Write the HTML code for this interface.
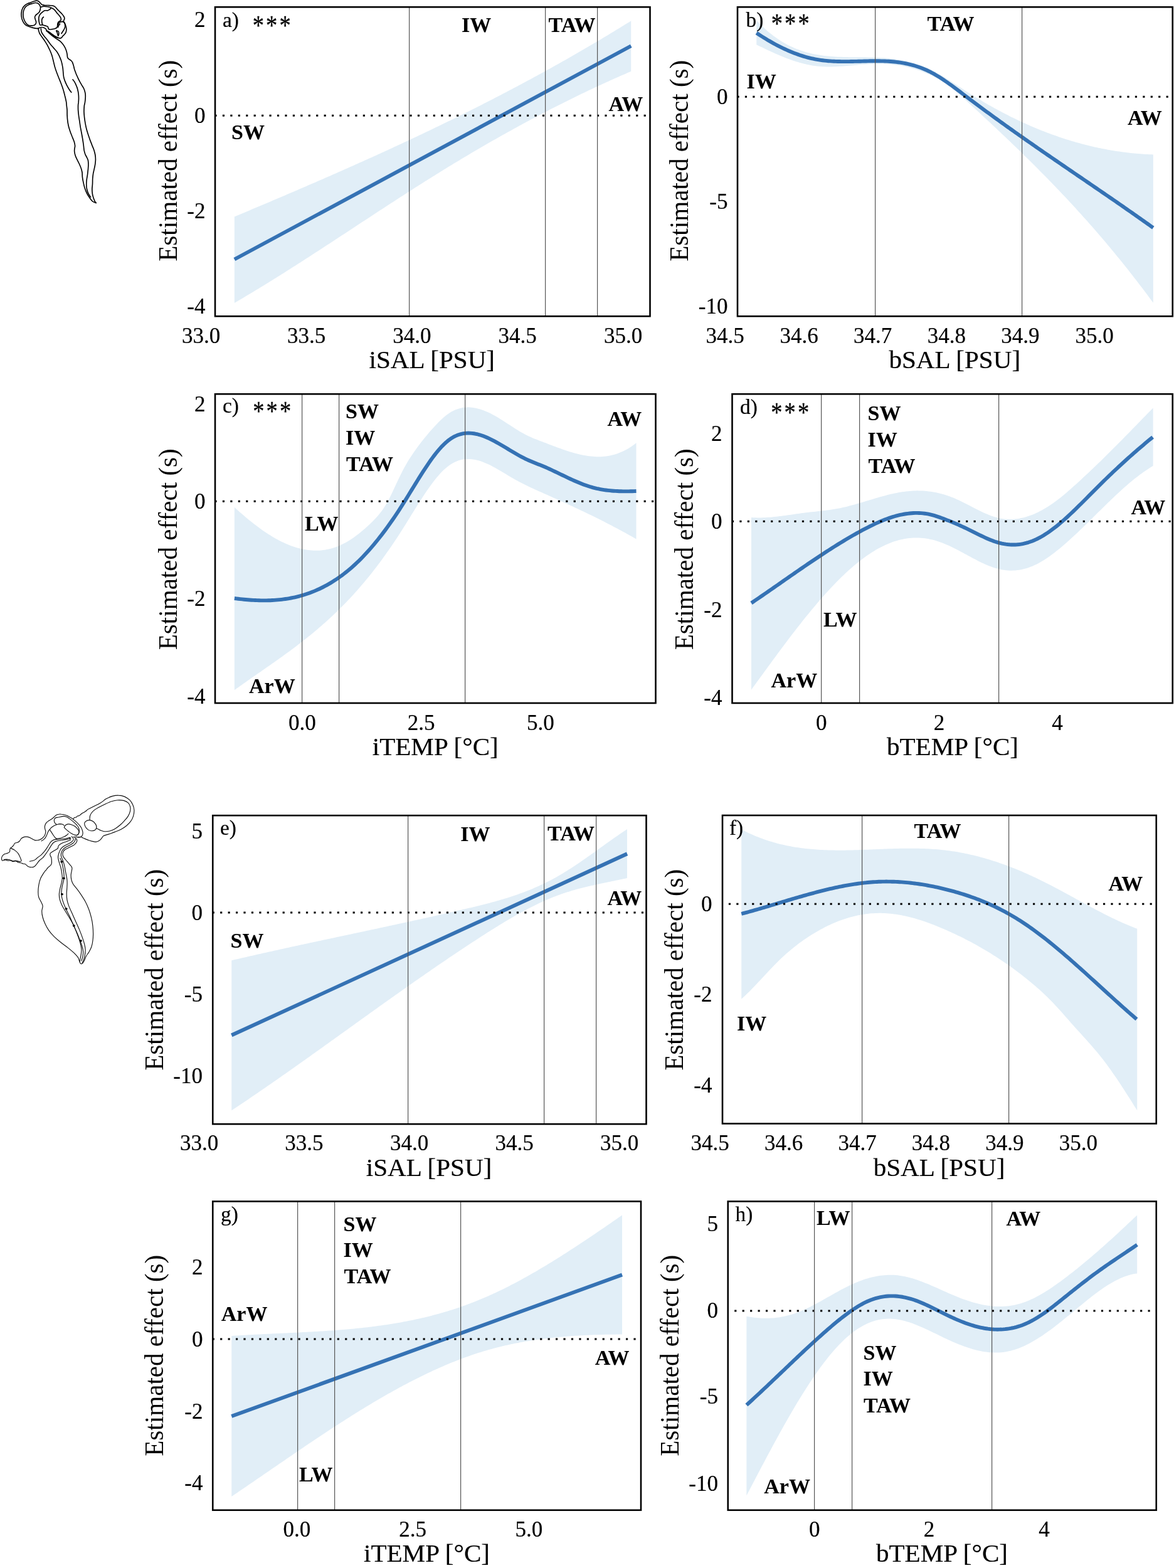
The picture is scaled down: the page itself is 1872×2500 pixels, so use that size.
<!DOCTYPE html>
<html lang="en">
<head>
<meta charset="utf-8">
<title>Estimated effects of salinity and temperature</title>
<style>
html,body{margin:0;padding:0;background:#fff;}
body{width:1872px;height:2500px;overflow:hidden;}
svg{display:block;}
text{font-family:"Liberation Serif","Times New Roman",Times,serif;fill:#000;stroke:#000;stroke-width:.22px;stroke-linejoin:round;}
.tk{font-size:35px;}
.ti{font-size:41.1px;}
.tg{font-size:33.3px;}
.yl{stroke-width:0;}
.bd{font-size:34px;font-weight:bold;stroke-width:.1px;}
.st{font-size:36.5px;letter-spacing:3.15px;}
</style>
</head>
<body>
<svg width="1872" height="2500" viewBox="0 0 1872 2500">
<rect width="1872" height="2500" fill="#fff"/>
<g id="icon1" fill="none" stroke="#000" stroke-width="1.65" stroke-linecap="round" stroke-linejoin="round">
<path d="M60.9 45.3C60.2 45.3 57.9 45.3 56.2 45.1C54.5 44.9 52.6 44.4 50.8 43.9C49.0 43.4 47.1 42.9 45.4 42.1C43.6 41.4 41.7 40.5 40.4 39.4C39.0 38.3 38.1 36.9 37.2 35.3C36.3 33.7 35.5 31.7 34.9 29.9C34.4 28.1 34.1 26.3 34.0 24.5C33.9 22.6 34.0 20.8 34.3 19.0C34.6 17.2 35.1 15.2 35.9 13.6C36.6 11.9 37.7 10.3 39.0 9.1C40.3 7.8 41.9 6.7 43.6 5.9C45.2 5.1 47.2 4.7 49.0 4.1C50.8 3.4 52.8 2.5 54.4 2.0C56.0 1.5 57.3 1.0 58.5 1.1C59.7 1.1 60.7 1.6 61.7 2.3C62.6 2.9 63.6 4.2 64.4 5.0C65.2 5.8 65.6 6.7 66.6 7.2C67.7 7.8 68.8 7.9 70.7 8.2C72.6 8.4 75.7 8.5 78.0 8.6C80.2 8.8 82.7 8.7 84.3 9.1C86.0 9.4 86.8 10.0 87.9 10.9C89.1 11.8 89.9 13.2 91.1 14.5C92.3 15.8 93.9 17.3 95.2 18.6C96.5 19.9 97.7 21.0 98.8 22.2C99.9 23.4 100.8 24.7 101.5 25.8C102.2 26.9 102.8 27.9 102.9 29.0C103.0 30.0 102.3 31.3 102.0 32.2C101.7 33.0 100.9 33.3 101.1 34.0C101.2 34.6 102.3 35.1 102.9 36.2C103.5 37.4 104.2 39.1 104.7 40.8C105.2 42.4 105.8 44.4 105.9 46.2C105.9 48.0 105.7 50.1 105.1 51.6C104.6 53.1 103.3 54.2 102.4 55.3C101.5 56.3 100.5 57.1 99.7 58.0C99.0 58.8 98.7 59.8 97.9 60.2C97.1 60.7 95.9 61.0 94.7 60.9C93.5 60.7 92.1 60.0 90.7 59.3C89.2 58.6 87.6 57.6 86.1 56.6C84.6 55.6 83.0 54.4 81.6 53.4C80.2 52.5 79.0 51.4 78.0 50.7C77.0 50.0 76.1 49.6 75.7 49.4"/>
<path d="M63.0 7.7C62.2 6.6 61.0 5.5 59.9 5.0C58.7 4.5 57.7 4.4 56.2 4.5C54.7 4.7 52.6 5.4 50.8 5.9C49.0 6.4 46.9 6.9 45.4 7.7C43.8 8.5 42.4 9.3 41.3 10.4C40.2 11.5 39.3 12.9 38.6 14.5C37.9 16.1 37.3 18.0 37.0 19.9C36.8 21.9 36.8 24.3 37.0 26.3C37.3 28.2 37.9 30.0 38.6 31.7C39.3 33.4 40.2 35.3 41.3 36.7C42.3 38.0 43.5 39.1 44.9 39.9C46.3 40.6 48.3 40.9 49.9 40.9C51.5 41.0 53.2 40.8 54.4 40.3C55.6 39.8 56.4 38.9 57.0 38.0C57.5 37.1 57.7 36.0 57.6 34.9C57.5 33.7 56.8 32.5 56.4 31.3C56.1 30.0 55.5 28.8 55.5 27.6C55.6 26.5 56.0 25.4 56.7 24.5C57.3 23.6 58.5 22.9 59.4 22.2C60.3 21.4 61.4 20.9 62.1 19.9C62.9 18.9 63.5 17.7 63.9 16.3C64.3 14.9 64.7 13.2 64.6 11.8C64.4 10.3 63.8 8.8 63.0 7.7Z"/>
<path d="M65.3 11.3C66.0 11.1 68.0 10.3 69.8 10.1C71.6 10.0 74.0 10.3 76.2 10.7C78.3 11.1 80.8 11.9 82.5 12.7C84.2 13.5 85.3 14.2 86.6 15.4C87.9 16.6 89.0 18.5 90.2 19.9C91.4 21.4 92.8 22.7 93.8 24.0C94.9 25.3 95.9 26.5 96.5 27.6C97.1 28.8 97.5 29.9 97.4 30.8C97.4 31.7 96.8 32.4 96.1 33.1C95.4 33.7 94.0 34.1 93.4 34.9C92.7 35.6 92.3 36.5 92.0 37.6C91.7 38.6 91.8 40.2 91.6 41.2C91.3 42.3 91.3 43.2 90.7 43.9C90.0 44.7 88.8 45.3 87.5 45.7C86.2 46.2 84.5 46.5 83.0 46.6C81.4 46.8 79.4 47.2 78.4 46.9C77.4 46.6 77.2 45.6 76.9 44.8C76.5 44.1 76.8 43.1 76.3 42.6C75.8 42.0 74.8 41.8 73.9 41.5C73.0 41.2 71.9 40.9 70.7 40.6C69.6 40.3 68.2 39.8 67.1 39.7C66.0 39.6 64.7 40.3 63.9 39.9C63.2 39.4 63.1 38.5 62.8 37.1C62.4 35.8 62.0 33.4 61.8 31.7C61.7 30.0 61.7 28.3 62.1 26.7C62.5 25.1 63.3 23.6 64.4 22.2C65.4 20.8 67.3 19.5 68.5 18.6C69.7 17.7 70.3 17.1 71.6 16.8C72.9 16.5 75.0 17.0 76.2 16.8C77.4 16.5 78.1 15.7 78.9 15.2C79.7 14.7 80.5 13.9 80.9 13.6"/>
<path d="M69.4 27.2C69.1 27.5 68.0 28.1 67.6 29.0C67.1 29.9 66.7 31.2 66.6 32.6C66.6 34.0 66.9 36.0 67.1 37.1C67.3 38.3 67.9 39.0 68.0 39.4"/>
<path d="M92.5 39.9C92.7 39.3 93.2 37.5 93.8 36.7C94.4 35.9 95.2 35.5 96.1 35.1C97.0 34.8 98.4 34.4 99.3 34.4C100.2 34.5 100.8 34.7 101.5 35.3C102.2 35.9 103.0 36.8 103.3 38.0C103.7 39.3 104.0 41.1 103.8 42.6C103.6 44.1 102.7 45.7 102.0 47.1C101.3 48.5 100.4 49.7 99.7 50.7C99.0 51.8 98.2 53.0 97.9 53.4"/>
<path d="M89.7 48.9C89.6 49.3 90.7 50.6 91.1 51.6C91.5 52.7 91.7 54.3 92.0 55.3C92.3 56.2 92.6 57.2 92.9 57.1C93.2 56.9 93.7 55.4 93.8 54.3C93.9 53.3 93.7 51.6 93.4 50.7C93.1 49.9 92.6 49.7 92.0 49.4C91.4 49.1 89.9 48.5 89.7 48.9Z"/>
<path d="M92.5 43.5C92.6 43.0 93.0 41.7 93.6 40.8C94.1 39.9 95.3 38.5 95.6 38.0"/>
<path d="M60.9 45.3C61.4 45.1 62.5 44.5 63.5 44.2C64.5 43.9 65.9 43.4 67.1 43.5C68.3 43.5 69.7 43.9 70.7 44.4C71.8 44.9 72.8 45.8 73.4 46.6C74.0 47.5 74.2 48.9 74.3 49.4"/>
<path d="M75.7 49.4C75.9 49.7 76.4 50.5 77.1 51.2C77.7 51.9 78.7 52.6 79.8 53.4C80.8 54.3 82.0 55.3 83.4 56.2C84.8 57.1 86.4 58.2 87.9 58.9C89.4 59.6 91.7 60.2 92.5 60.5"/>
<path d="M60.9 45.3C61.1 45.9 61.3 47.6 61.7 48.9C62.0 50.2 62.3 51.5 63.0 53.0C63.8 54.5 64.9 56.1 66.2 58.0C67.5 59.9 69.2 62.0 70.7 64.3C72.2 66.6 73.9 69.1 75.3 71.6C76.6 74.0 77.7 76.4 78.9 78.8C80.0 81.2 81.2 83.8 82.0 86.1C82.9 88.3 83.3 90.1 83.9 92.4C84.5 94.7 85.1 97.2 85.7 99.6C86.3 102.1 86.7 104.3 87.5 106.9C88.2 109.5 89.2 112.3 90.2 115.0C91.2 117.8 92.2 120.3 93.4 123.2C94.5 126.1 95.8 129.1 97.0 132.2C98.2 135.4 99.6 138.9 100.6 142.2C101.7 145.5 102.5 148.9 103.3 152.2C104.2 155.5 105.1 159.6 105.6 162.1C106.1 164.6 105.8 165.0 106.1 167.2C106.3 169.5 106.8 172.7 107.0 175.4C107.1 178.1 107.0 180.8 107.1 183.6C107.3 186.3 107.3 188.8 107.7 191.7C108.0 194.6 108.5 197.7 109.2 200.8C109.9 203.8 111.0 207.0 111.9 209.8C112.9 212.7 114.1 215.3 115.1 218.0C116.2 220.7 117.5 223.7 118.3 226.1C119.0 228.5 119.5 230.7 119.6 232.5C119.7 234.3 119.1 235.5 118.9 237.0C118.8 238.5 118.5 239.7 118.7 241.5C118.9 243.3 119.4 245.7 120.1 247.9C120.8 250.0 121.8 252.1 122.8 254.2C123.8 256.3 124.9 258.3 126.0 260.5C127.0 262.8 128.3 265.4 129.1 267.8C130.0 270.2 130.6 272.6 131.0 275.0C131.3 277.5 131.1 279.7 131.4 282.3C131.7 284.8 132.2 287.6 132.8 290.4C133.4 293.3 134.1 296.5 135.0 299.5C136.0 302.5 137.3 305.8 138.7 308.6C140.0 311.3 141.7 313.7 143.2 315.8C144.7 317.9 146.1 319.9 147.7 321.2C149.4 322.5 152.2 323.1 153.2 323.5"/>
<path d="M65.3 45.7C65.4 46.3 65.4 48.2 65.7 49.4C66.0 50.6 66.3 51.6 67.1 53.0C67.9 54.4 69.4 56.2 70.7 58.0C72.1 59.7 73.7 61.4 75.3 63.4C76.8 65.4 78.1 67.6 79.8 69.7C81.4 71.9 83.4 74.0 85.2 76.1C87.0 78.2 89.1 80.3 90.7 82.4C92.2 84.5 93.2 86.7 94.3 88.8C95.3 90.9 96.2 93.0 97.0 95.1C97.7 97.2 98.3 99.2 98.8 101.4C99.3 103.7 99.8 106.3 100.2 108.7C100.5 111.1 100.6 113.7 100.8 115.9C101.0 118.2 101.1 120.2 101.5 122.3C101.9 124.4 102.5 126.4 103.3 128.6C104.2 130.9 105.4 133.6 106.5 135.9C107.6 138.1 108.9 140.3 110.1 142.2C111.3 144.1 113.1 146.4 113.8 147.2"/>
<path d="M74.3 49.4C75.0 49.9 76.5 51.3 78.0 52.5C79.5 53.8 81.4 55.6 83.4 57.1C85.4 58.6 87.8 60.2 89.7 61.6C91.7 63.0 93.5 63.9 95.2 65.2C96.8 66.6 98.4 68.1 99.7 69.7C101.1 71.4 102.4 73.4 103.3 75.2C104.3 77.0 105.0 78.8 105.6 80.6C106.2 82.4 106.6 84.2 107.0 86.1C107.3 87.9 107.2 90.1 107.7 91.5C108.1 92.8 108.7 93.4 109.7 94.2C110.6 95.0 112.3 95.6 113.3 96.5C114.3 97.4 114.9 98.2 115.6 99.6C116.2 101.1 116.8 103.3 117.4 105.1C117.9 106.9 118.1 108.4 118.7 110.5C119.4 112.6 120.5 115.5 121.4 117.8C122.4 120.0 123.2 122.0 124.2 124.1C125.1 126.2 126.3 128.5 127.3 130.4C128.4 132.4 129.5 134.1 130.5 135.9C131.6 137.7 132.8 139.2 133.7 141.3C134.6 143.4 135.5 146.1 135.9 148.6C136.4 151.0 136.3 153.4 136.2 155.8C136.1 158.2 135.8 160.8 135.5 163.0C135.2 165.3 134.6 166.5 134.3 169.1C134.1 171.6 133.9 175.1 133.9 178.1C134.0 181.1 134.3 184.2 134.6 187.2C134.9 190.2 135.4 193.2 135.9 196.2C136.5 199.3 137.0 202.3 137.8 205.3C138.5 208.3 139.5 211.3 140.5 214.3C141.5 217.4 142.6 220.5 143.6 223.4C144.7 226.3 145.8 228.8 146.8 231.6C147.9 234.3 149.2 237.1 150.0 239.7C150.8 242.3 151.4 244.5 151.8 247.0C152.2 249.4 152.4 251.8 152.4 254.2C152.4 256.6 152.1 259.0 151.8 261.4C151.5 263.9 151.0 266.1 150.4 268.7C149.9 271.3 149.1 274.1 148.6 276.8C148.2 279.6 147.9 282.3 147.7 285.0C147.5 287.7 147.7 290.4 147.5 293.2C147.4 295.9 146.9 298.7 146.8 301.3C146.8 303.9 146.9 306.1 147.3 308.6C147.6 311.0 148.4 313.7 149.1 315.8C149.8 317.9 150.7 319.9 151.3 321.2C152.0 322.5 152.9 323.1 153.2 323.5"/>
<path d="M116.0 126.8C116.5 127.4 117.8 128.9 118.7 130.4C119.6 131.9 120.6 133.9 121.4 135.9C122.3 137.8 123.1 139.9 123.7 142.2C124.3 144.5 124.8 147.0 125.1 149.5C125.4 151.9 125.5 154.3 125.5 156.7C125.5 159.1 125.2 162.2 125.1 163.9C124.9 165.7 124.7 165.3 124.6 167.2C124.5 169.2 124.5 172.5 124.6 175.4C124.8 178.3 125.1 181.4 125.5 184.5C125.9 187.5 126.4 190.5 126.9 193.5C127.3 196.5 127.7 199.4 128.2 202.6C128.8 205.7 129.5 209.2 130.1 212.5C130.7 215.9 131.3 219.3 131.9 222.5C132.4 225.7 132.8 228.7 133.2 231.6C133.6 234.4 133.7 237.3 134.1 239.7C134.6 242.1 135.2 244.1 135.9 246.1C136.7 248.0 137.9 249.8 138.7 251.5C139.4 253.1 140.1 254.2 140.5 256.0C140.8 257.8 140.9 260.1 140.9 262.4C140.9 264.6 140.7 267.0 140.5 269.6C140.2 272.2 139.9 274.9 139.6 277.8C139.2 280.6 138.5 283.9 138.2 286.8C137.9 289.7 137.7 292.4 137.8 295.0C137.8 297.5 138.1 299.9 138.7 302.2C139.2 304.5 139.9 306.5 140.9 308.6C141.9 310.6 143.9 313.5 144.5 314.4"/>
</g>
<g id="icon2" fill="none" stroke="#111" stroke-width="1.15" stroke-linecap="round" stroke-linejoin="round">
<path d="M112.7 1338.9C112.1 1339.2 110.3 1340.0 108.9 1340.5C107.6 1341.1 106.0 1341.6 104.6 1342.2C103.1 1342.7 101.7 1343.2 100.2 1343.8C98.8 1344.4 97.0 1345.2 95.9 1346.0C94.7 1346.8 93.7 1347.8 93.2 1348.7C92.6 1349.6 92.8 1350.7 92.6 1351.4C92.4 1352.1 92.7 1352.3 91.8 1353.0C90.9 1353.8 88.7 1354.9 87.2 1355.8C85.7 1356.7 84.0 1357.7 82.8 1358.5C81.6 1359.3 80.6 1359.7 80.1 1360.7C79.7 1361.6 79.8 1362.8 80.1 1363.9C80.4 1365.0 81.4 1365.9 81.7 1367.2C82.1 1368.4 82.2 1370.0 82.3 1371.5C82.4 1373.1 82.6 1375.1 82.3 1376.4C82.0 1377.8 81.6 1378.5 80.7 1379.7C79.7 1380.9 77.6 1382.1 76.3 1383.5C75.0 1384.8 74.0 1386.7 73.0 1387.8C72.1 1389.0 72.2 1388.1 70.8 1390.3C69.4 1392.4 66.1 1397.2 64.6 1400.7C63.1 1404.2 62.4 1407.5 61.8 1411.1C61.2 1414.7 60.8 1419.0 60.8 1422.2C60.8 1425.5 61.1 1428.0 61.8 1430.6C62.5 1433.1 64.2 1435.2 65.3 1437.5C66.3 1439.8 67.8 1441.9 68.1 1444.4C68.3 1447.0 66.7 1449.8 66.7 1452.8C66.7 1455.8 67.1 1459.0 68.1 1462.5C69.0 1466.0 70.6 1470.1 72.2 1473.6C73.8 1477.1 75.5 1480.1 77.8 1483.3C80.1 1486.6 82.9 1489.8 86.1 1493.1C89.4 1496.3 93.5 1499.8 97.2 1502.8C100.9 1505.8 104.9 1508.3 108.3 1511.1C111.8 1513.9 115.4 1516.9 118.1 1519.4C120.7 1522.0 122.9 1524.3 124.3 1526.4C125.7 1528.5 125.8 1530.4 126.4 1531.9C127.0 1533.4 127.2 1534.6 127.8 1535.4C128.4 1536.2 129.1 1536.9 129.9 1536.8C130.7 1536.7 131.7 1536.0 132.6 1534.7C133.6 1533.4 134.6 1530.9 135.4 1529.2C136.2 1527.4 136.5 1526.2 137.5 1524.3C138.5 1522.5 140.3 1520.5 141.7 1518.1C143.1 1515.6 144.8 1512.7 145.8 1509.7C146.9 1506.7 147.5 1503.5 147.9 1500.0C148.4 1496.5 148.6 1492.8 148.6 1488.9C148.6 1485.0 148.4 1480.6 147.9 1476.4C147.5 1472.2 146.9 1468.3 145.8 1463.9C144.8 1459.5 143.3 1454.4 141.7 1450.0C140.0 1445.6 138.2 1441.4 136.1 1437.5C134.0 1433.6 131.5 1429.9 129.2 1426.4C126.9 1422.9 124.3 1419.4 122.2 1416.7C120.1 1413.9 118.1 1412.0 116.7 1409.7C115.3 1407.4 114.5 1405.3 113.9 1402.8C113.3 1400.2 113.0 1397.5 113.2 1394.4C113.4 1391.4 114.9 1386.8 114.9 1384.6C114.9 1382.3 114.1 1382.0 113.3 1380.8C112.4 1379.5 111.1 1378.2 110.0 1377.0C108.9 1375.7 107.8 1374.4 106.7 1373.2C105.7 1371.9 104.5 1370.6 103.5 1369.3C102.5 1368.1 101.3 1366.8 100.8 1365.5C100.2 1364.3 99.9 1363.0 99.9 1361.7C99.9 1360.5 100.2 1359.1 100.8 1357.9C101.3 1356.8 102.3 1355.6 103.5 1354.7C104.7 1353.8 106.2 1353.3 107.8 1352.5C109.5 1351.7 111.5 1350.7 113.3 1349.8C115.0 1348.9 116.8 1348.1 118.2 1347.1C119.5 1346.1 120.6 1345.0 121.4 1343.8C122.2 1342.6 122.8 1341.2 122.8 1340.0C122.8 1338.8 121.6 1337.3 121.4 1336.7"/>
<path d="M116.5 1336.2C116.6 1336.6 117.4 1337.9 117.1 1338.9C116.7 1339.9 115.5 1341.2 114.3 1342.2C113.2 1343.2 111.6 1344.0 110.0 1344.9C108.4 1345.8 106.2 1346.7 104.6 1347.6C102.9 1348.5 101.5 1349.3 100.2 1350.3C98.9 1351.3 97.9 1352.3 97.0 1353.6C96.1 1354.9 95.4 1356.4 94.8 1357.9C94.1 1359.5 93.5 1361.3 93.2 1362.8C92.8 1364.4 92.5 1365.5 92.6 1367.2C92.7 1368.8 93.2 1370.8 93.7 1372.6C94.1 1374.4 94.8 1376.2 95.3 1378.0C95.9 1379.9 96.5 1381.5 97.0 1383.5C97.5 1385.5 97.9 1387.2 98.3 1390.0C98.7 1392.8 99.4 1396.9 99.3 1400.0C99.2 1403.1 98.5 1405.6 97.9 1408.3C97.3 1411.1 96.4 1413.9 95.8 1416.7C95.3 1419.4 94.6 1422.2 94.4 1425.0C94.3 1427.8 94.4 1430.3 95.1 1433.3C95.8 1436.3 97.1 1439.8 98.6 1443.1C100.1 1446.3 102.1 1449.3 104.2 1452.8C106.2 1456.2 109.0 1460.4 111.1 1463.9C113.2 1467.4 115.0 1470.4 116.7 1473.6C118.3 1476.9 119.4 1479.9 120.8 1483.3C122.2 1486.8 123.7 1490.7 125.0 1494.4C126.3 1498.1 127.7 1502.3 128.5 1505.6C129.3 1508.8 129.7 1511.1 129.9 1513.9C130.0 1516.7 129.5 1519.7 129.2 1522.2C128.8 1524.8 128.1 1527.3 127.8 1529.2C127.4 1531.0 127.2 1532.6 127.1 1533.3"/>
<path d="M95.9 1368.3C96.3 1369.2 97.6 1371.6 98.3 1374.0C99.0 1376.3 99.7 1379.7 100.2 1382.4C100.8 1385.1 101.3 1387.1 101.6 1390.0C101.9 1392.9 102.3 1396.9 102.1 1400.0C101.9 1403.1 100.9 1405.6 100.3 1408.3C99.7 1411.1 99.0 1413.8 98.6 1416.7C98.2 1419.6 97.7 1422.5 97.9 1425.7C98.1 1428.9 98.8 1432.3 100.0 1436.1C101.2 1439.9 103.0 1444.4 104.9 1448.6C106.7 1452.8 109.0 1456.6 111.1 1461.1C113.2 1465.6 115.4 1471.3 117.4 1475.7C119.3 1480.1 121.2 1483.4 122.9 1487.5C124.7 1491.6 126.4 1496.3 127.8 1500.0C129.2 1503.7 130.4 1506.9 131.2 1509.7C132.1 1512.5 132.5 1514.1 132.6 1516.7C132.8 1519.2 132.4 1522.5 131.9 1525.0C131.5 1527.5 130.2 1530.8 129.9 1531.9"/>
<path d="M119.2 1335.1C119.4 1335.5 120.3 1336.3 120.3 1337.3C120.3 1338.3 119.9 1339.9 119.2 1341.1C118.6 1342.3 117.7 1343.4 116.5 1344.3C115.3 1345.3 113.8 1346.2 112.2 1347.1C110.5 1348.0 108.4 1348.9 106.7 1349.8C105.1 1350.7 103.7 1351.4 102.4 1352.5C101.1 1353.6 99.9 1354.9 99.1 1356.3C98.3 1357.7 97.8 1359.2 97.5 1360.7C97.2 1362.1 97.2 1363.6 97.5 1365.0C97.8 1366.4 98.5 1367.7 99.1 1369.3C99.8 1371.0 100.6 1372.6 101.3 1374.8C102.0 1377.0 102.7 1379.9 103.2 1382.4C103.8 1384.9 103.9 1386.6 104.6 1390.0C105.2 1393.4 106.5 1398.8 106.9 1402.8C107.3 1406.8 107.1 1410.2 106.9 1413.9C106.8 1417.6 106.2 1421.5 106.2 1425.0C106.2 1428.5 106.4 1431.5 106.9 1434.7C107.5 1438.0 108.3 1440.7 109.7 1444.4C111.1 1448.1 113.4 1452.8 115.3 1456.9C117.1 1461.1 119.0 1465.3 120.8 1469.4C122.7 1473.6 124.7 1477.8 126.4 1481.9C128.1 1486.1 129.9 1490.5 131.2 1494.4C132.6 1498.4 133.9 1502.3 134.7 1505.6C135.5 1508.8 136.0 1511.1 136.1 1513.9C136.2 1516.7 135.9 1519.4 135.4 1522.2C135.0 1525.0 134.0 1528.5 133.3 1530.6C132.6 1532.6 131.6 1534.0 131.2 1534.7"/>
<path d="M112.2 1336.2C111.6 1336.4 110.2 1337.1 108.9 1337.6C107.6 1338.0 106.2 1338.3 104.6 1338.6C102.9 1339.0 100.9 1339.2 99.1 1339.5C97.3 1339.7 95.5 1339.9 93.7 1340.3C91.9 1340.6 89.7 1341.0 88.3 1341.6C86.8 1342.2 86.0 1342.9 85.0 1343.8C84.0 1344.7 83.2 1345.8 82.3 1347.1C81.4 1348.3 80.6 1349.8 79.6 1351.4C78.6 1353.0 77.6 1354.9 76.3 1356.8C75.0 1358.8 73.3 1361.0 72.0 1362.8C70.6 1364.6 69.6 1366.3 68.2 1367.7C66.7 1369.2 64.9 1369.8 63.3 1371.5C61.6 1373.2 59.8 1376.0 58.3 1377.8C56.8 1379.5 55.8 1381.1 54.2 1381.9C52.5 1382.8 50.2 1382.8 48.6 1382.6C47.0 1382.5 45.8 1382.1 44.4 1381.2C43.1 1380.4 41.6 1378.5 40.3 1377.8C39.0 1377.1 38.0 1377.4 36.8 1377.1C35.6 1376.7 34.6 1376.0 33.3 1375.7C32.1 1375.3 30.6 1375.5 29.2 1375.0C27.8 1374.5 26.4 1373.1 25.0 1372.9C23.6 1372.7 22.2 1373.8 20.8 1373.6C19.4 1373.4 18.1 1372.2 16.7 1371.9C15.3 1371.7 13.9 1372.4 12.5 1372.2C11.1 1372.0 9.7 1370.8 8.3 1370.8C6.9 1370.8 5.1 1372.5 4.2 1372.2C3.2 1372.0 2.6 1370.6 2.5 1369.4C2.4 1368.3 2.7 1366.6 3.5 1365.3C4.2 1364.0 5.6 1362.6 6.9 1361.8C8.3 1361.0 10.4 1361.0 11.8 1360.4C13.2 1359.8 14.6 1359.5 15.3 1358.3C16.0 1357.2 15.5 1354.6 16.0 1353.5C16.4 1352.3 17.1 1352.3 18.1 1351.4C19.0 1350.5 20.6 1349.1 21.5 1347.9C22.5 1346.8 22.6 1345.2 23.6 1344.4C24.7 1343.7 26.5 1343.9 27.8 1343.3C29.1 1342.8 30.2 1342.1 31.2 1341.0C32.3 1339.9 32.8 1337.9 34.0 1336.8C35.3 1335.7 37.2 1334.8 38.9 1334.4C40.6 1334.1 42.6 1334.1 44.4 1334.4C46.3 1334.8 48.1 1335.9 50.0 1336.8C51.9 1337.7 53.9 1339.1 55.6 1339.6C57.2 1340.1 58.7 1339.8 60.0 1339.7C61.3 1339.6 62.1 1339.4 63.3 1338.9C64.4 1338.4 65.9 1337.6 67.1 1336.7C68.2 1335.8 69.5 1334.7 70.3 1333.5C71.2 1332.3 71.8 1331.0 72.2 1329.7C72.6 1328.3 72.9 1326.7 72.8 1325.3C72.7 1324.0 71.9 1322.8 71.7 1321.5C71.5 1320.3 71.2 1319.1 71.4 1317.7C71.6 1316.4 72.0 1314.7 72.8 1313.4C73.6 1312.0 74.8 1310.7 76.3 1309.6C77.8 1308.4 80.1 1307.4 81.7 1306.3C83.4 1305.2 84.8 1303.9 86.1 1302.8C87.4 1301.7 88.1 1300.6 89.3 1299.8C90.6 1299.0 92.2 1298.4 93.7 1298.2C95.1 1297.9 96.4 1298.0 98.0 1298.2C99.7 1298.3 101.7 1298.7 103.5 1299.2C105.3 1299.8 107.1 1300.6 108.9 1301.4C110.7 1302.3 112.5 1303.2 114.3 1304.4C116.2 1305.6 118.2 1307.3 119.8 1308.8C121.4 1310.2 122.8 1311.4 124.1 1312.8C125.5 1314.2 126.8 1315.6 127.9 1317.2C129.0 1318.7 130.0 1320.4 130.7 1322.1C131.3 1323.7 131.8 1325.5 132.0 1327.0C132.2 1328.4 132.1 1329.7 131.7 1330.8C131.4 1331.8 130.8 1332.8 130.1 1333.5C129.4 1334.1 128.4 1334.3 127.4 1334.6C126.4 1334.8 125.1 1334.9 124.1 1334.8C123.1 1334.8 122.3 1334.4 121.4 1334.3C120.5 1334.2 119.7 1334.2 118.7 1334.3C117.7 1334.4 116.2 1335.2 115.4 1335.1C114.7 1335.0 114.5 1333.8 114.3 1333.5"/>
<path d="M66.0 1340.8C66.5 1340.5 68.2 1339.7 69.2 1338.9C70.3 1338.1 71.4 1337.1 72.2 1335.9C73.1 1334.7 73.7 1333.3 74.4 1331.8C75.1 1330.4 75.6 1328.4 76.3 1327.0C77.0 1325.5 77.9 1323.9 78.5 1323.2C79.0 1322.4 79.4 1322.5 79.6 1322.3"/>
<path d="M16.7 1352.1C17.8 1352.7 21.5 1354.1 23.6 1355.6C25.7 1357.1 27.7 1359.0 29.2 1361.1C30.7 1363.2 31.8 1366.1 32.6 1368.1C33.4 1370.0 34.4 1372.0 34.0 1372.9C33.7 1373.8 32.1 1373.7 30.6 1373.6C29.1 1373.5 26.6 1372.3 25.0 1372.2C23.4 1372.1 22.5 1373.1 20.8 1372.9C19.2 1372.7 17.1 1371.3 15.3 1370.8C13.4 1370.4 11.2 1370.1 9.7 1370.1C8.2 1370.1 6.8 1370.7 6.2 1370.8"/>
<path d="M47.2 1373.2C48.1 1373.0 51.2 1372.7 52.8 1372.2C54.4 1371.7 55.7 1371.0 56.9 1370.1C58.1 1369.3 58.6 1368.3 60.0 1367.2C61.4 1366.0 63.6 1365.0 65.4 1363.4C67.2 1361.7 69.2 1359.4 70.9 1357.4C72.5 1355.4 73.9 1353.3 75.2 1351.4C76.5 1349.5 77.5 1347.5 78.5 1346.0C79.5 1344.4 80.3 1343.2 81.2 1342.2C82.1 1341.2 82.9 1340.6 83.9 1340.0C84.9 1339.4 85.7 1339.0 87.2 1338.6C88.6 1338.3 90.8 1338.2 92.6 1338.1C94.4 1338.0 96.2 1338.0 98.0 1337.8C99.9 1337.7 101.8 1337.6 103.5 1337.3C105.1 1337.0 106.6 1336.5 107.8 1336.2C109.1 1335.9 110.3 1335.3 111.1 1335.4C111.9 1335.5 112.4 1336.3 112.4 1336.7C112.4 1337.1 111.3 1337.6 111.1 1337.8"/>
<path d="M90.4 1314.5C90.0 1314.1 88.4 1313.2 87.7 1312.3C87.0 1311.4 86.5 1310.1 86.4 1309.0C86.2 1307.9 86.4 1306.7 86.9 1305.8C87.4 1304.9 88.4 1304.0 89.3 1303.6C90.3 1303.2 91.3 1303.5 92.6 1303.3C93.9 1303.1 95.5 1302.5 97.0 1302.2C98.4 1301.9 99.9 1301.4 101.3 1301.4C102.8 1301.4 104.2 1301.7 105.7 1302.2C107.1 1302.8 108.6 1303.7 110.0 1304.7C111.4 1305.6 112.9 1306.8 114.3 1307.9C115.8 1309.1 117.3 1310.5 118.7 1311.7C120.1 1313.0 121.4 1314.3 122.5 1315.5C123.6 1316.8 124.6 1318.0 125.2 1319.3C125.9 1320.7 126.2 1322.2 126.3 1323.7C126.4 1325.1 126.1 1326.9 125.8 1328.0C125.4 1329.2 124.8 1330.1 124.1 1330.8C123.5 1331.4 122.3 1331.7 122.0 1331.8"/>
<path d="M89.9 1337.3C89.4 1336.8 88.1 1335.7 87.2 1334.6C86.3 1333.5 85.4 1332.1 84.5 1330.8C83.6 1329.4 82.6 1327.8 81.7 1326.4C80.9 1325.0 79.4 1323.6 79.6 1322.3C79.7 1321.1 81.6 1319.8 82.8 1318.8C84.1 1317.8 85.7 1316.8 87.2 1316.1C88.6 1315.4 90.1 1314.9 91.5 1314.5C93.0 1314.0 94.5 1313.7 95.9 1313.6C97.2 1313.6 98.6 1313.8 99.7 1314.2C100.7 1314.6 101.7 1315.8 102.1 1316.1"/>
<path d="M89.9 1337.3C90.5 1337.2 92.3 1337.0 93.7 1336.7C95.1 1336.5 96.6 1336.1 98.0 1335.7C99.5 1335.2 101.0 1334.7 102.4 1334.0C103.8 1333.4 105.1 1332.7 106.2 1331.8C107.3 1331.0 108.5 1329.6 108.9 1329.1"/>
<path d="M102.4 1318.8C102.7 1318.1 103.5 1316.4 104.6 1315.5C105.7 1314.7 107.3 1314.0 108.9 1313.9C110.5 1313.8 112.5 1314.4 114.3 1315.0C116.2 1315.6 118.2 1316.5 119.8 1317.7C121.4 1318.9 123.1 1320.6 124.1 1322.1C125.2 1323.5 125.9 1325.1 126.0 1326.4C126.1 1327.8 125.4 1329.4 124.7 1330.2C124.0 1331.1 123.1 1331.5 122.0 1331.6C120.8 1331.7 119.1 1331.3 117.6 1330.8C116.2 1330.3 114.7 1329.5 113.3 1328.6C111.8 1327.7 110.3 1326.4 108.9 1325.3C107.6 1324.2 106.1 1323.0 105.1 1322.1C104.1 1321.2 103.4 1320.4 102.9 1319.9C102.5 1319.3 102.1 1319.5 102.4 1318.8Z"/>
<path d="M116.5 1306.0C116.9 1305.6 117.9 1304.1 118.7 1303.6C119.5 1303.1 120.6 1303.5 121.4 1303.0C122.2 1302.6 122.8 1301.5 123.6 1301.1C124.4 1300.7 125.5 1301.0 126.3 1300.6C127.1 1300.2 127.7 1299.4 128.5 1298.7C129.3 1298.0 130.4 1297.1 131.2 1296.5C132.0 1296.0 132.6 1295.9 133.4 1295.4C134.2 1295.0 135.2 1294.4 136.1 1293.8C137.0 1293.2 138.1 1292.2 138.8 1291.6C139.5 1291.0 138.4 1291.3 140.3 1290.3C142.1 1289.2 146.8 1287.0 150.0 1285.4C153.2 1283.8 156.5 1282.5 159.7 1280.6C163.0 1278.6 166.2 1275.5 169.4 1273.6C172.7 1271.8 175.9 1270.4 179.2 1269.4C182.4 1268.5 185.6 1267.9 188.9 1268.1C192.1 1268.2 195.6 1268.9 198.6 1270.1C201.6 1271.4 204.7 1273.5 206.9 1275.7C209.1 1277.9 210.6 1280.7 211.8 1283.3C213.0 1286.0 213.8 1288.7 213.9 1291.7C214.0 1294.7 213.4 1298.4 212.5 1301.4C211.6 1304.4 210.2 1307.2 208.3 1309.7C206.5 1312.3 203.9 1314.6 201.4 1316.7C198.8 1318.8 196.1 1320.6 193.1 1322.2C190.0 1323.8 186.6 1325.1 183.3 1326.4C180.1 1327.7 176.6 1328.8 173.6 1329.9C170.6 1330.9 167.2 1331.5 165.3 1332.6C163.3 1333.8 163.0 1335.5 161.8 1336.8C160.6 1338.1 159.8 1339.4 158.3 1340.3C156.8 1341.2 154.9 1342.2 152.8 1342.4C150.7 1342.5 147.0 1341.2 145.8 1341.0C144.7 1340.8 146.6 1341.3 145.9 1341.1C145.2 1340.9 143.0 1340.2 141.5 1339.7C140.1 1339.2 138.6 1338.7 137.2 1338.1C135.7 1337.5 134.1 1336.7 132.8 1336.2C131.6 1335.7 130.8 1335.1 129.6 1334.8C128.3 1334.6 126.6 1334.7 125.2 1334.6C123.9 1334.5 122.0 1334.3 121.4 1334.3"/>
<path d="M143.1 1306.9C143.2 1305.8 142.8 1302.3 143.8 1300.0C144.7 1297.7 146.4 1295.1 148.6 1293.1C150.8 1291.0 153.9 1289.2 156.9 1287.5C160.0 1285.8 163.2 1284.3 166.7 1282.6C170.1 1281.0 174.3 1278.9 177.8 1277.8C181.2 1276.6 184.3 1275.9 187.5 1275.7C190.7 1275.5 194.4 1275.7 197.2 1276.4C200.0 1277.1 202.4 1278.2 204.2 1279.9C205.9 1281.5 207.1 1283.9 207.6 1286.1C208.2 1288.3 208.2 1290.5 207.6 1293.1C207.1 1295.6 205.7 1298.8 204.2 1301.4C202.7 1303.9 200.7 1306.0 198.6 1308.3C196.5 1310.6 194.2 1313.1 191.7 1315.3C189.1 1317.5 186.1 1319.9 183.3 1321.5C180.6 1323.1 177.8 1324.3 175.0 1325.0C172.2 1325.7 169.2 1325.9 166.7 1325.7C164.1 1325.5 161.8 1324.4 159.7 1323.6C157.6 1322.8 155.1 1321.3 154.2 1320.8"/>
<path d="M134.7 1312.5C135.0 1311.0 136.1 1309.8 137.5 1309.0C138.9 1308.2 141.2 1307.5 143.1 1307.6C144.9 1307.8 147.0 1308.6 148.6 1309.7C150.2 1310.9 151.9 1313.0 152.8 1314.6C153.7 1316.2 154.1 1317.9 153.9 1319.4C153.7 1320.9 152.7 1322.7 151.4 1323.6C150.0 1324.5 147.7 1324.8 145.8 1324.7C144.0 1324.6 141.9 1324.0 140.3 1322.9C138.7 1321.8 137.0 1319.8 136.1 1318.1C135.2 1316.3 134.5 1314.0 134.7 1312.5Z"/>
<ellipse cx="98.3" cy="1374.0" rx="2" ry="1.7" fill="#000" stroke="none"/>
<ellipse cx="101.7" cy="1400.3" rx="2" ry="1.7" fill="#000" stroke="none"/>
<ellipse cx="98.9" cy="1425.7" rx="2" ry="1.7" fill="#000" stroke="none"/>
<ellipse cx="105.6" cy="1449.0" rx="2" ry="1.7" fill="#000" stroke="none"/>
<ellipse cx="117.8" cy="1476.0" rx="2" ry="1.7" fill="#000" stroke="none"/>
<ellipse cx="128.9" cy="1500.0" rx="2" ry="1.7" fill="#000" stroke="none"/>
</g>
<g id="panel-a">
<path d="M373.85 345.51 L376.86 344.25 L379.87 342.98 L382.88 341.72 L385.9 340.45 L388.91 339.18 L391.92 337.92 L394.93 336.65 L397.94 335.38 L400.95 334.11 L403.96 332.84 L406.98 331.57 L409.99 330.3 L413 329.03 L416.01 327.76 L419.02 326.49 L422.03 325.21 L425.04 323.94 L428.06 322.66 L431.07 321.38 L434.08 320.1 L437.09 318.83 L440.1 317.55 L443.11 316.26 L446.12 314.98 L449.14 313.7 L452.15 312.41 L455.16 311.13 L458.17 309.84 L461.18 308.55 L464.19 307.27 L467.2 305.97 L470.22 304.68 L473.23 303.39 L476.24 302.1 L479.25 300.8 L482.26 299.5 L485.27 298.21 L488.28 296.91 L491.3 295.61 L494.31 294.3 L497.32 293 L500.33 291.69 L503.34 290.39 L506.35 289.08 L509.36 287.77 L512.38 286.46 L515.39 285.15 L518.4 283.83 L521.41 282.52 L524.42 281.2 L527.43 279.88 L530.44 278.56 L533.46 277.23 L536.47 275.91 L539.48 274.58 L542.49 273.26 L545.5 271.93 L548.51 270.59 L551.52 269.26 L554.54 267.92 L557.55 266.59 L560.56 265.25 L563.57 263.91 L566.58 262.56 L569.59 261.22 L572.6 259.87 L575.62 258.52 L578.63 257.17 L581.64 255.82 L584.65 254.46 L587.66 253.1 L590.67 251.74 L593.68 250.38 L596.7 249.02 L599.71 247.65 L602.72 246.28 L605.73 244.91 L608.74 243.54 L611.75 242.16 L614.76 240.78 L617.78 239.4 L620.79 238.02 L623.8 236.64 L626.81 235.25 L629.82 233.86 L632.83 232.47 L635.84 231.07 L638.86 229.67 L641.87 228.27 L644.88 226.87 L647.89 225.47 L650.9 224.06 L653.91 222.65 L656.92 221.24 L659.94 219.82 L662.95 218.4 L665.96 216.98 L668.97 215.56 L671.98 214.13 L674.99 212.7 L678 211.27 L681.02 209.83 L684.03 208.4 L687.04 206.95 L690.05 205.51 L693.06 204.06 L696.07 202.61 L699.08 201.16 L702.1 199.71 L705.11 198.25 L708.12 196.79 L711.13 195.32 L714.14 193.85 L717.15 192.38 L720.16 190.91 L723.18 189.43 L726.19 187.95 L729.2 186.47 L732.21 184.98 L735.22 183.49 L738.23 182 L741.24 180.5 L744.26 179 L747.27 177.5 L750.28 175.99 L753.29 174.48 L756.3 172.97 L759.31 171.45 L762.32 169.93 L765.34 168.41 L768.35 166.88 L771.36 165.35 L774.37 163.82 L777.38 162.28 L780.39 160.74 L783.4 159.19 L786.42 157.65 L789.43 156.09 L792.44 154.54 L795.45 152.98 L798.46 151.41 L801.47 149.85 L804.48 148.28 L807.5 146.7 L810.51 145.12 L813.52 143.54 L816.53 141.95 L819.54 140.36 L822.55 138.77 L825.56 137.17 L828.58 135.57 L831.59 133.97 L834.6 132.36 L837.61 130.74 L840.62 129.12 L843.63 127.5 L846.64 125.88 L849.66 124.25 L852.67 122.61 L855.68 120.97 L858.69 119.33 L861.7 117.68 L864.71 116.03 L867.72 114.38 L870.74 112.72 L873.75 111.05 L876.76 109.39 L879.77 107.71 L882.78 106.04 L885.79 104.36 L888.8 102.67 L891.82 100.98 L894.83 99.29 L897.84 97.59 L900.85 95.88 L903.86 94.18 L906.87 92.46 L909.88 90.75 L912.9 89.03 L915.91 87.3 L918.92 85.57 L921.93 83.83 L924.94 82.09 L927.95 80.35 L930.96 78.6 L933.98 76.84 L936.99 75.08 L940 73.32 L943.01 71.55 L946.02 69.78 L949.03 68 L952.04 66.22 L955.06 64.43 L958.07 62.63 L961.08 60.84 L964.09 59.03 L967.1 57.23 L970.11 55.41 L973.12 53.59 L976.14 51.77 L979.15 49.94 L982.16 48.11 L985.17 46.27 L988.18 44.43 L991.19 42.58 L994.2 40.72 L997.22 38.86 L1000.23 37 L1003.24 35.13 L1006.25 33.26 L1006.25 113.78 L1003.24 115.07 L1000.23 116.36 L997.22 117.66 L994.2 118.97 L991.19 120.29 L988.18 121.61 L985.17 122.94 L982.16 124.27 L979.15 125.61 L976.14 126.96 L973.12 128.31 L970.11 129.67 L967.1 131.03 L964.09 132.41 L961.08 133.78 L958.07 135.17 L955.06 136.56 L952.04 137.96 L949.03 139.36 L946.02 140.77 L943.01 142.18 L940 143.6 L936.99 145.03 L933.98 146.46 L930.96 147.9 L927.95 149.35 L924.94 150.8 L921.93 152.26 L918.92 153.72 L915.91 155.19 L912.9 156.67 L909.88 158.15 L906.87 159.64 L903.86 161.13 L900.85 162.63 L897.84 164.13 L894.83 165.65 L891.82 167.16 L888.8 168.69 L885.79 170.22 L882.78 171.75 L879.77 173.29 L876.76 174.84 L873.75 176.39 L870.74 177.95 L867.72 179.51 L864.71 181.08 L861.7 182.66 L858.69 184.24 L855.68 185.83 L852.67 187.42 L849.66 189.02 L846.64 190.62 L843.63 192.23 L840.62 193.85 L837.61 195.47 L834.6 197.09 L831.59 198.73 L828.58 200.36 L825.56 202.01 L822.55 203.66 L819.54 205.31 L816.53 206.97 L813.52 208.64 L810.51 210.31 L807.5 211.98 L804.48 213.67 L801.47 215.35 L798.46 217.05 L795.45 218.75 L792.44 220.45 L789.43 222.16 L786.42 223.87 L783.4 225.59 L780.39 227.32 L777.38 229.05 L774.37 230.79 L771.36 232.53 L768.35 234.27 L765.34 236.03 L762.32 237.78 L759.31 239.55 L756.3 241.32 L753.29 243.09 L750.28 244.87 L747.27 246.65 L744.26 248.44 L741.24 250.23 L738.23 252.03 L735.22 253.84 L732.21 255.65 L729.2 257.46 L726.19 259.28 L723.18 261.11 L720.16 262.94 L717.15 264.77 L714.14 266.61 L711.13 268.46 L708.12 270.31 L705.11 272.16 L702.1 274.02 L699.08 275.89 L696.07 277.76 L693.06 279.63 L690.05 281.51 L687.04 283.4 L684.03 285.29 L681.02 287.18 L678 289.08 L674.99 290.98 L671.98 292.88 L668.97 294.79 L665.96 296.71 L662.95 298.62 L659.94 300.54 L656.92 302.47 L653.91 304.4 L650.9 306.33 L647.89 308.26 L644.88 310.2 L641.87 312.14 L638.86 314.08 L635.84 316.03 L632.83 317.97 L629.82 319.93 L626.81 321.88 L623.8 323.83 L620.79 325.79 L617.78 327.75 L614.76 329.71 L611.75 331.68 L608.74 333.64 L605.73 335.61 L602.72 337.57 L599.71 339.54 L596.7 341.51 L593.68 343.49 L590.67 345.46 L587.66 347.43 L584.65 349.41 L581.64 351.38 L578.63 353.36 L575.62 355.34 L572.6 357.31 L569.59 359.29 L566.58 361.27 L563.57 363.24 L560.56 365.22 L557.55 367.2 L554.54 369.17 L551.52 371.15 L548.51 373.13 L545.5 375.1 L542.49 377.07 L539.48 379.05 L536.47 381.02 L533.46 382.99 L530.44 384.96 L527.43 386.93 L524.42 388.9 L521.41 390.86 L518.4 392.83 L515.39 394.79 L512.38 396.75 L509.36 398.71 L506.35 400.67 L503.34 402.62 L500.33 404.57 L497.32 406.52 L494.31 408.47 L491.3 410.41 L488.28 412.36 L485.27 414.29 L482.26 416.23 L479.25 418.16 L476.24 420.09 L473.23 422.02 L470.22 423.94 L467.2 425.86 L464.19 427.78 L461.18 429.69 L458.17 431.6 L455.16 433.5 L452.15 435.4 L449.14 437.3 L446.12 439.19 L443.11 441.07 L440.1 442.96 L437.09 444.83 L434.08 446.71 L431.07 448.57 L428.06 450.44 L425.04 452.3 L422.03 454.15 L419.02 456 L416.01 457.84 L413 459.67 L409.99 461.51 L406.98 463.33 L403.96 465.15 L400.95 466.96 L397.94 468.77 L394.93 470.57 L391.92 472.36 L388.91 474.15 L385.9 475.93 L382.88 477.71 L379.87 479.48 L376.86 481.24 L373.85 482.99Z" fill="#e1eef7"/>
<path d="M373.85 413.5 L1006.25 73.25" fill="none" stroke="#3572b4" stroke-width="5.9" stroke-linejoin="round"/>
<line x1="343" y1="184.25" x2="1036.5" y2="184.25" stroke="#000" stroke-width="3" stroke-dasharray="3.2 9.24" stroke-dashoffset="0.6"/>
<line x1="652.6" y1="11.25" x2="652.6" y2="504.25" stroke="#555" stroke-width="1.2"/>
<line x1="869.6" y1="11.25" x2="869.6" y2="504.25" stroke="#555" stroke-width="1.2"/>
<line x1="952.6" y1="11.25" x2="952.6" y2="504.25" stroke="#555" stroke-width="1.2"/>
<rect x="343" y="11.25" width="693.5" height="493" fill="none" stroke="#000" stroke-width="2.6"/>
<text class="ti yl" text-anchor="middle" transform="translate(281.6 256.25) rotate(-90) scale(1 1.03)">Estimated effect (s)</text>
<text class="tk" text-anchor="end" x="327.5" y="43">2</text>
<text class="tk" text-anchor="end" x="327.5" y="195.5">0</text>
<text class="tk" text-anchor="end" x="327.5" y="347.5">-2</text>
<text class="tk" text-anchor="end" x="327.5" y="499.5">-4</text>
<text class="tk" text-anchor="middle" x="320.5" y="547">33.0</text>
<text class="tk" text-anchor="middle" x="488.5" y="547">33.5</text>
<text class="tk" text-anchor="middle" x="656.75" y="547">34.0</text>
<text class="tk" text-anchor="middle" x="825" y="547">34.5</text>
<text class="tk" text-anchor="middle" x="993.5" y="547">35.0</text>
<text class="ti" text-anchor="middle" x="688.75" y="586.5">iSAL [PSU]</text>
<text class="tg" x="355" y="43">a)</text>
<text class="st" transform="translate(402.65 54.6) scale(1 1.2)">***</text>
<text class="bd" x="369" y="221.9">SW</text>
<text class="bd" x="736" y="51.4">IW</text>
<text class="bd" x="874.5" y="50.65">TAW</text>
<text class="bd" x="970.5" y="176.9">AW</text>
</g>
<g id="panel-b">
<path d="M1206.25 32.46 L1209.26 35.66 L1212.27 38.74 L1215.29 41.7 L1218.3 44.54 L1221.31 47.28 L1224.32 49.9 L1227.34 52.42 L1230.35 54.84 L1233.36 57.15 L1236.37 59.36 L1239.39 61.47 L1242.4 63.48 L1245.41 65.41 L1248.42 67.24 L1251.44 68.98 L1254.45 70.63 L1257.46 72.2 L1260.47 73.69 L1263.48 75.09 L1266.5 76.42 L1269.51 77.68 L1272.52 78.85 L1275.53 79.96 L1278.55 81 L1281.56 81.97 L1284.57 82.88 L1287.58 83.73 L1290.6 84.51 L1293.61 85.24 L1296.62 85.91 L1299.63 86.53 L1302.65 87.1 L1305.66 87.62 L1308.67 88.09 L1311.68 88.52 L1314.69 88.91 L1317.71 89.25 L1320.72 89.56 L1323.73 89.84 L1326.74 90.08 L1329.76 90.29 L1332.77 90.47 L1335.78 90.63 L1338.79 90.76 L1341.81 90.87 L1344.82 90.96 L1347.83 91.03 L1350.84 91.09 L1353.86 91.13 L1356.87 91.17 L1359.88 91.2 L1362.89 91.22 L1365.9 91.23 L1368.92 91.25 L1371.93 91.26 L1374.94 91.28 L1377.95 91.31 L1380.97 91.34 L1383.98 91.38 L1386.99 91.43 L1390 91.5 L1393.02 91.59 L1396.03 91.69 L1399.04 91.81 L1402.05 91.96 L1405.07 92.13 L1408.08 92.33 L1411.09 92.55 L1414.1 92.81 L1417.11 93.09 L1420.13 93.41 L1423.14 93.76 L1426.15 94.15 L1429.16 94.58 L1432.18 95.05 L1435.19 95.56 L1438.2 96.11 L1441.21 96.71 L1444.23 97.35 L1447.24 98.04 L1450.25 98.78 L1453.26 99.58 L1456.28 100.43 L1459.29 101.33 L1462.3 102.29 L1465.31 103.31 L1468.32 104.38 L1471.34 105.53 L1474.35 106.73 L1477.36 108 L1480.37 109.34 L1483.39 110.74 L1486.4 112.22 L1489.41 113.76 L1492.42 115.36 L1495.44 117.02 L1498.45 118.72 L1501.46 120.48 L1504.47 122.28 L1507.49 124.11 L1510.5 125.98 L1513.51 127.88 L1516.52 129.8 L1519.53 131.74 L1522.55 133.69 L1525.56 135.66 L1528.57 137.63 L1531.58 139.6 L1534.6 141.56 L1537.61 143.52 L1540.62 145.47 L1543.63 147.39 L1546.65 149.3 L1549.66 151.2 L1552.67 153.07 L1555.68 154.92 L1558.7 156.76 L1561.71 158.57 L1564.72 160.37 L1567.73 162.15 L1570.74 163.91 L1573.76 165.66 L1576.77 167.38 L1579.78 169.09 L1582.79 170.78 L1585.81 172.44 L1588.82 174.09 L1591.83 175.73 L1594.84 177.34 L1597.86 178.93 L1600.87 180.51 L1603.88 182.07 L1606.89 183.61 L1609.91 185.13 L1612.92 186.63 L1615.93 188.11 L1618.94 189.58 L1621.95 191.02 L1624.97 192.45 L1627.98 193.86 L1630.99 195.25 L1634 196.62 L1637.02 197.98 L1640.03 199.31 L1643.04 200.63 L1646.05 201.93 L1649.07 203.21 L1652.08 204.47 L1655.09 205.71 L1658.1 206.94 L1661.11 208.14 L1664.13 209.33 L1667.14 210.5 L1670.15 211.65 L1673.16 212.78 L1676.18 213.89 L1679.19 214.99 L1682.2 216.06 L1685.21 217.12 L1688.23 218.16 L1691.24 219.18 L1694.25 220.18 L1697.26 221.16 L1700.28 222.13 L1703.29 223.07 L1706.3 224 L1709.31 224.91 L1712.32 225.8 L1715.34 226.67 L1718.35 227.53 L1721.36 228.36 L1724.37 229.18 L1727.39 229.98 L1730.4 230.76 L1733.41 231.52 L1736.42 232.26 L1739.44 232.98 L1742.45 233.69 L1745.46 234.38 L1748.47 235.04 L1751.49 235.69 L1754.5 236.33 L1757.51 236.94 L1760.52 237.53 L1763.53 238.11 L1766.55 238.67 L1769.56 239.2 L1772.57 239.72 L1775.58 240.23 L1778.6 240.71 L1781.61 241.17 L1784.62 241.62 L1787.63 242.05 L1790.65 242.46 L1793.66 242.85 L1796.67 243.22 L1799.68 243.57 L1802.7 243.91 L1805.71 244.22 L1808.72 244.52 L1811.73 244.8 L1814.74 245.06 L1817.76 245.3 L1820.77 245.53 L1823.78 245.73 L1826.79 245.92 L1829.81 246.09 L1832.82 246.24 L1835.83 246.37 L1838.84 246.48 L1838.84 482.85 L1835.83 478.75 L1832.82 474.67 L1829.81 470.62 L1826.79 466.59 L1823.78 462.58 L1820.77 458.6 L1817.76 454.64 L1814.74 450.71 L1811.73 446.79 L1808.72 442.9 L1805.71 439.03 L1802.7 435.19 L1799.68 431.37 L1796.67 427.56 L1793.66 423.78 L1790.65 420.03 L1787.63 416.29 L1784.62 412.57 L1781.61 408.88 L1778.6 405.2 L1775.58 401.54 L1772.57 397.91 L1769.56 394.29 L1766.55 390.7 L1763.53 387.12 L1760.52 383.56 L1757.51 380.03 L1754.5 376.51 L1751.49 373 L1748.47 369.52 L1745.46 366.06 L1742.45 362.61 L1739.44 359.18 L1736.42 355.77 L1733.41 352.37 L1730.4 348.99 L1727.39 345.63 L1724.37 342.28 L1721.36 338.95 L1718.35 335.64 L1715.34 332.34 L1712.32 329.06 L1709.31 325.79 L1706.3 322.54 L1703.29 319.3 L1700.28 316.08 L1697.26 312.87 L1694.25 309.68 L1691.24 306.5 L1688.23 303.33 L1685.21 300.18 L1682.2 297.04 L1679.19 293.92 L1676.18 290.8 L1673.16 287.7 L1670.15 284.61 L1667.14 281.54 L1664.13 278.47 L1661.11 275.42 L1658.1 272.38 L1655.09 269.35 L1652.08 266.33 L1649.07 263.32 L1646.05 260.33 L1643.04 257.34 L1640.03 254.36 L1637.02 251.4 L1634 248.44 L1630.99 245.49 L1627.98 242.55 L1624.97 239.62 L1621.95 236.7 L1618.94 233.79 L1615.93 230.89 L1612.92 227.99 L1609.91 225.11 L1606.89 222.23 L1603.88 219.35 L1600.87 216.49 L1597.86 213.63 L1594.84 210.78 L1591.83 207.93 L1588.82 205.1 L1585.81 202.26 L1582.79 199.44 L1579.78 196.62 L1576.77 193.8 L1573.76 190.99 L1570.74 188.19 L1567.73 185.39 L1564.72 182.59 L1561.71 179.8 L1558.7 177.01 L1555.68 174.23 L1552.67 171.45 L1549.66 168.67 L1546.65 165.9 L1543.63 163.13 L1540.62 160.36 L1537.61 157.6 L1534.6 154.86 L1531.58 152.15 L1528.57 149.49 L1525.56 146.89 L1522.55 144.37 L1519.53 141.93 L1516.52 139.59 L1513.51 137.35 L1510.5 135.2 L1507.49 133.15 L1504.47 131.18 L1501.46 129.29 L1498.45 127.49 L1495.44 125.76 L1492.42 124.12 L1489.41 122.54 L1486.4 121.03 L1483.39 119.59 L1480.37 118.22 L1477.36 116.9 L1474.35 115.65 L1471.34 114.46 L1468.32 113.33 L1465.31 112.25 L1462.3 111.24 L1459.29 110.28 L1456.28 109.38 L1453.26 108.53 L1450.25 107.74 L1447.24 107 L1444.23 106.31 L1441.21 105.68 L1438.2 105.09 L1435.19 104.56 L1432.18 104.07 L1429.16 103.64 L1426.15 103.25 L1423.14 102.9 L1420.13 102.61 L1417.11 102.35 L1414.1 102.14 L1411.09 101.98 L1408.08 101.85 L1405.07 101.77 L1402.05 101.73 L1399.04 101.72 L1396.03 101.76 L1393.02 101.83 L1390 101.93 L1386.99 102.07 L1383.98 102.23 L1380.97 102.42 L1377.95 102.64 L1374.94 102.86 L1371.93 103.11 L1368.92 103.37 L1365.9 103.63 L1362.89 103.9 L1359.88 104.17 L1356.87 104.45 L1353.86 104.71 L1350.84 104.97 L1347.83 105.22 L1344.82 105.45 L1341.81 105.67 L1338.79 105.87 L1335.78 106.04 L1332.77 106.19 L1329.76 106.3 L1326.74 106.38 L1323.73 106.43 L1320.72 106.43 L1317.71 106.4 L1314.69 106.31 L1311.68 106.18 L1308.67 105.99 L1305.66 105.75 L1302.65 105.44 L1299.63 105.08 L1296.62 104.65 L1293.61 104.15 L1290.6 103.6 L1287.58 102.99 L1284.57 102.31 L1281.56 101.59 L1278.55 100.81 L1275.53 99.98 L1272.52 99.1 L1269.51 98.17 L1266.5 97.19 L1263.48 96.18 L1260.47 95.12 L1257.46 94.02 L1254.45 92.89 L1251.44 91.71 L1248.42 90.51 L1245.41 89.28 L1242.4 88.01 L1239.39 86.72 L1236.37 85.4 L1233.36 84.06 L1230.35 82.69 L1227.34 81.31 L1224.32 79.91 L1221.31 78.49 L1218.3 77.06 L1215.29 75.62 L1212.27 74.17 L1209.26 72.71 L1206.25 71.25Z" fill="#e1eef7"/>
<path d="M1206.25 52.49 L1209.26 54.49 L1212.27 56.45 L1215.29 58.37 L1218.3 60.26 L1221.31 62.1 L1224.32 63.91 L1227.34 65.67 L1230.35 67.4 L1233.36 69.08 L1236.37 70.72 L1239.39 72.32 L1242.4 73.87 L1245.41 75.38 L1248.42 76.84 L1251.44 78.26 L1254.45 79.64 L1257.46 80.97 L1260.47 82.25 L1263.48 83.48 L1266.5 84.66 L1269.51 85.8 L1272.52 86.89 L1275.53 87.92 L1278.55 88.91 L1281.56 89.84 L1284.57 90.72 L1287.58 91.55 L1290.6 92.33 L1293.61 93.05 L1296.62 93.72 L1299.63 94.33 L1302.65 94.89 L1305.66 95.39 L1308.67 95.85 L1311.68 96.25 L1314.69 96.61 L1317.71 96.92 L1320.72 97.19 L1323.73 97.42 L1326.74 97.62 L1329.76 97.78 L1332.77 97.91 L1335.78 98 L1338.79 98.07 L1341.81 98.12 L1344.82 98.14 L1347.83 98.14 L1350.84 98.12 L1353.86 98.09 L1356.87 98.04 L1359.88 97.98 L1362.89 97.91 L1365.9 97.84 L1368.92 97.76 L1371.93 97.68 L1374.94 97.59 L1377.95 97.52 L1380.97 97.44 L1383.98 97.38 L1386.99 97.32 L1390 97.28 L1393.02 97.25 L1396.03 97.24 L1399.04 97.25 L1402.05 97.28 L1405.07 97.33 L1408.08 97.41 L1411.09 97.51 L1414.1 97.65 L1417.11 97.82 L1420.13 98.03 L1423.14 98.28 L1426.15 98.56 L1429.16 98.89 L1432.18 99.26 L1435.19 99.68 L1438.2 100.15 L1441.21 100.67 L1444.23 101.25 L1447.24 101.88 L1450.25 102.57 L1453.26 103.32 L1456.28 104.14 L1459.29 105.02 L1462.3 105.97 L1465.31 106.99 L1468.32 108.08 L1471.34 109.25 L1474.35 110.49 L1477.36 111.82 L1480.37 113.23 L1483.39 114.72 L1486.4 116.29 L1489.41 117.95 L1492.42 119.69 L1495.44 121.49 L1498.45 123.36 L1501.46 125.3 L1504.47 127.29 L1507.49 129.33 L1510.5 131.42 L1513.51 133.55 L1516.52 135.72 L1519.53 137.92 L1522.55 140.14 L1525.56 142.39 L1528.57 144.66 L1531.58 146.94 L1534.6 149.23 L1537.61 151.52 L1540.62 153.81 L1543.63 156.1 L1546.65 158.37 L1549.66 160.64 L1552.67 162.9 L1555.68 165.15 L1558.7 167.4 L1561.71 169.64 L1564.72 171.87 L1567.73 174.1 L1570.74 176.32 L1573.76 178.53 L1576.77 180.74 L1579.78 182.94 L1582.79 185.13 L1585.81 187.32 L1588.82 189.5 L1591.83 191.68 L1594.84 193.85 L1597.86 196.02 L1600.87 198.18 L1603.88 200.34 L1606.89 202.49 L1609.91 204.63 L1612.92 206.77 L1615.93 208.91 L1618.94 211.04 L1621.95 213.17 L1624.97 215.29 L1627.98 217.41 L1630.99 219.52 L1634 221.63 L1637.02 223.74 L1640.03 225.84 L1643.04 227.94 L1646.05 230.04 L1649.07 232.14 L1652.08 234.23 L1655.09 236.31 L1658.1 238.4 L1661.11 240.48 L1664.13 242.56 L1667.14 244.64 L1670.15 246.71 L1673.16 248.78 L1676.18 250.85 L1679.19 252.92 L1682.2 254.99 L1685.21 257.05 L1688.23 259.12 L1691.24 261.18 L1694.25 263.24 L1697.26 265.3 L1700.28 267.36 L1703.29 269.41 L1706.3 271.47 L1709.31 273.53 L1712.32 275.58 L1715.34 277.64 L1718.35 279.69 L1721.36 281.75 L1724.37 283.8 L1727.39 285.86 L1730.4 287.91 L1733.41 289.97 L1736.42 292.03 L1739.44 294.08 L1742.45 296.14 L1745.46 298.2 L1748.47 300.26 L1751.49 302.32 L1754.5 304.38 L1757.51 306.45 L1760.52 308.51 L1763.53 310.58 L1766.55 312.65 L1769.56 314.72 L1772.57 316.79 L1775.58 318.87 L1778.6 320.94 L1781.61 323.02 L1784.62 325.11 L1787.63 327.19 L1790.65 329.28 L1793.66 331.37 L1796.67 333.47 L1799.68 335.56 L1802.7 337.66 L1805.71 339.77 L1808.72 341.88 L1811.73 343.99 L1814.74 346.1 L1817.76 348.22 L1820.77 350.35 L1823.78 352.48 L1826.79 354.61 L1829.81 356.75 L1832.82 358.89 L1835.83 361.03 L1838.84 363.19" fill="none" stroke="#3572b4" stroke-width="5.9" stroke-linejoin="round"/>
<line x1="1176" y1="154.25" x2="1869.75" y2="154.25" stroke="#000" stroke-width="3" stroke-dasharray="3.2 9.24" stroke-dashoffset="0.6"/>
<line x1="1395.6" y1="11.25" x2="1395.6" y2="504.25" stroke="#555" stroke-width="1.2"/>
<line x1="1629.6" y1="11.25" x2="1629.6" y2="504.25" stroke="#555" stroke-width="1.2"/>
<rect x="1176" y="11.25" width="693.75" height="493" fill="none" stroke="#000" stroke-width="2.6"/>
<text class="ti yl" text-anchor="middle" transform="translate(1097.2 256.25) rotate(-90) scale(1 1.03)">Estimated effect (s)</text>
<text class="tk" text-anchor="end" x="1160.5" y="165.5">0</text>
<text class="tk" text-anchor="end" x="1160.5" y="333">-5</text>
<text class="tk" text-anchor="end" x="1160.5" y="499.5">-10</text>
<text class="tk" text-anchor="middle" x="1156" y="547">34.5</text>
<text class="tk" text-anchor="middle" x="1274" y="547">34.6</text>
<text class="tk" text-anchor="middle" x="1391.5" y="547">34.7</text>
<text class="tk" text-anchor="middle" x="1509.4" y="547">34.8</text>
<text class="tk" text-anchor="middle" x="1626.75" y="547">34.9</text>
<text class="tk" text-anchor="middle" x="1745" y="547">35.0</text>
<text class="ti" text-anchor="middle" x="1522.25" y="586.5">bSAL [PSU]</text>
<text class="tg" x="1189.5" y="42.5">b)</text>
<text class="st" transform="translate(1229.65 51.6) scale(1 1.2)">***</text>
<text class="bd" x="1190.5" y="141.4">IW</text>
<text class="bd" x="1478.5" y="49.4">TAW</text>
<text class="bd" x="1798" y="198.65">AW</text>
</g>
<g id="panel-c">
<path d="M373.85 808.74 L376.86 811.49 L379.87 814.2 L382.87 816.88 L385.88 819.51 L388.89 822.11 L391.9 824.67 L394.9 827.19 L397.91 829.66 L400.92 832.09 L403.93 834.47 L406.94 836.8 L409.94 839.09 L412.95 841.32 L415.96 843.5 L418.97 845.63 L421.97 847.71 L424.98 849.73 L427.99 851.69 L431 853.59 L434 855.43 L437.01 857.21 L440.02 858.92 L443.03 860.57 L446.04 862.16 L449.04 863.67 L452.05 865.12 L455.06 866.5 L458.07 867.81 L461.07 869.04 L464.08 870.2 L467.09 871.28 L470.1 872.28 L473.11 873.21 L476.11 874.05 L479.12 874.82 L482.13 875.5 L485.14 876.09 L488.14 876.6 L491.15 877.02 L494.16 877.36 L497.17 877.6 L500.18 877.75 L503.18 877.81 L506.19 877.77 L509.2 877.64 L512.21 877.41 L515.21 877.08 L518.22 876.65 L521.23 876.12 L524.24 875.48 L527.25 874.75 L530.25 873.9 L533.26 872.95 L536.27 871.89 L539.28 870.72 L542.28 869.44 L545.29 868.04 L548.3 866.54 L551.31 864.93 L554.31 863.21 L557.32 861.39 L560.33 859.47 L563.34 857.44 L566.35 855.32 L569.35 853.1 L572.36 850.78 L575.37 848.37 L578.38 845.87 L581.38 843.28 L584.39 840.61 L587.4 837.84 L590.41 834.99 L593.42 832.06 L596.42 829.03 L599.43 825.85 L602.44 822.47 L605.45 818.84 L608.45 814.92 L611.46 810.64 L614.47 805.97 L617.48 800.84 L620.49 795.24 L623.49 789.24 L626.5 782.97 L629.51 776.54 L632.52 770.05 L635.52 763.63 L638.53 757.38 L641.54 751.41 L644.55 745.77 L647.55 740.43 L650.56 735.35 L653.57 730.53 L656.58 725.91 L659.59 721.48 L662.59 717.21 L665.6 713.07 L668.61 709.04 L671.62 705.11 L674.62 701.27 L677.63 697.54 L680.64 693.89 L683.65 690.33 L686.66 686.85 L689.66 683.45 L692.67 680.13 L695.68 676.9 L698.69 673.78 L701.69 670.79 L704.7 667.95 L707.71 665.27 L710.72 662.78 L713.73 660.5 L716.73 658.44 L719.74 656.61 L722.75 655 L725.76 653.61 L728.76 652.42 L731.77 651.44 L734.78 650.66 L737.79 650.07 L740.8 649.66 L743.8 649.43 L746.81 649.37 L749.82 649.47 L752.83 649.73 L755.83 650.14 L758.84 650.7 L761.85 651.39 L764.86 652.22 L767.86 653.17 L770.87 654.25 L773.88 655.43 L776.89 656.72 L779.9 658.11 L782.9 659.6 L785.91 661.17 L788.92 662.82 L791.93 664.54 L794.93 666.33 L797.94 668.17 L800.95 670.06 L803.96 671.98 L806.97 673.93 L809.97 675.89 L812.98 677.85 L815.99 679.81 L819 681.76 L822 683.67 L825.01 685.55 L828.02 687.39 L831.03 689.16 L834.04 690.87 L837.04 692.51 L840.05 694.05 L843.06 695.51 L846.07 696.87 L849.07 698.17 L852.08 699.41 L855.09 700.61 L858.1 701.77 L861.1 702.91 L864.11 704.04 L867.12 705.18 L870.13 706.33 L873.14 707.48 L876.14 708.63 L879.15 709.78 L882.16 710.92 L885.17 712.06 L888.17 713.18 L891.18 714.29 L894.19 715.37 L897.2 716.44 L900.21 717.48 L903.21 718.49 L906.22 719.48 L909.23 720.42 L912.24 721.33 L915.24 722.2 L918.25 723.02 L921.26 723.79 L924.27 724.51 L927.28 725.18 L930.28 725.79 L933.29 726.34 L936.3 726.83 L939.31 727.24 L942.31 727.59 L945.32 727.86 L948.33 728.06 L951.34 728.17 L954.35 728.2 L957.35 728.15 L960.36 728 L963.37 727.76 L966.38 727.43 L969.38 726.99 L972.39 726.45 L975.4 725.81 L978.41 725.05 L981.41 724.18 L984.42 723.2 L987.43 722.09 L990.44 720.86 L993.45 719.51 L996.45 718.03 L999.46 716.41 L1002.47 714.66 L1005.48 712.77 L1008.48 710.74 L1011.49 708.56 L1014.5 706.24 L1014.5 859.49 L1011.49 857.76 L1008.48 856.05 L1005.48 854.35 L1002.47 852.67 L999.46 851 L996.45 849.34 L993.45 847.69 L990.44 846.06 L987.43 844.43 L984.42 842.82 L981.41 841.22 L978.41 839.64 L975.4 838.06 L972.39 836.49 L969.38 834.94 L966.38 833.39 L963.37 831.86 L960.36 830.33 L957.35 828.82 L954.35 827.31 L951.34 825.81 L948.33 824.32 L945.32 822.85 L942.31 821.37 L939.31 819.91 L936.3 818.46 L933.29 817.01 L930.28 815.57 L927.28 814.14 L924.27 812.71 L921.26 811.3 L918.25 809.89 L915.24 808.48 L912.24 807.08 L909.23 805.69 L906.22 804.3 L903.21 802.92 L900.21 801.54 L897.2 800.17 L894.19 798.8 L891.18 797.44 L888.17 796.08 L885.17 794.73 L882.16 793.38 L879.15 792.03 L876.14 790.69 L873.14 789.35 L870.13 788.01 L867.12 786.68 L864.11 785.34 L861.1 784.01 L858.1 782.68 L855.09 781.33 L852.08 779.98 L849.07 778.6 L846.07 777.21 L843.06 775.79 L840.05 774.34 L837.04 772.85 L834.04 771.33 L831.03 769.78 L828.02 768.19 L825.01 766.56 L822 764.9 L819 763.2 L815.99 761.47 L812.98 759.71 L809.97 757.92 L806.97 756.11 L803.96 754.29 L800.95 752.48 L797.94 750.69 L794.93 748.92 L791.93 747.19 L788.92 745.51 L785.91 743.89 L782.9 742.34 L779.9 740.86 L776.89 739.46 L773.88 738.16 L770.87 736.95 L767.86 735.85 L764.86 734.87 L761.85 734.01 L758.84 733.29 L755.83 732.7 L752.83 732.27 L749.82 731.99 L746.81 731.88 L743.8 731.94 L740.8 732.18 L737.79 732.61 L734.78 733.24 L731.77 734.08 L728.76 735.13 L725.76 736.4 L722.75 737.9 L719.74 739.64 L716.73 741.63 L713.73 743.88 L710.72 746.38 L707.71 749.12 L704.7 752.08 L701.69 755.27 L698.69 758.66 L695.68 762.23 L692.67 765.99 L689.66 769.9 L686.66 773.97 L683.65 778.18 L680.64 782.51 L677.63 786.95 L674.62 791.5 L671.62 796.13 L668.61 800.83 L665.6 805.59 L662.59 810.4 L659.59 815.24 L656.58 820.11 L653.57 824.98 L650.56 829.85 L647.55 834.7 L644.55 839.53 L641.54 844.3 L638.53 849.03 L635.52 853.69 L632.52 858.28 L629.51 862.82 L626.5 867.29 L623.49 871.71 L620.49 876.06 L617.48 880.36 L614.47 884.59 L611.46 888.77 L608.45 892.89 L605.45 896.95 L602.44 900.96 L599.43 904.91 L596.42 908.81 L593.42 912.65 L590.41 916.43 L587.4 920.16 L584.39 923.84 L581.38 927.47 L578.38 931.04 L575.37 934.56 L572.36 938.03 L569.35 941.45 L566.35 944.82 L563.34 948.14 L560.33 951.42 L557.32 954.64 L554.31 957.82 L551.31 960.95 L548.3 964.04 L545.29 967.09 L542.28 970.09 L539.28 973.05 L536.27 975.98 L533.26 978.86 L530.25 981.7 L527.25 984.5 L524.24 987.27 L521.23 990.01 L518.22 992.7 L515.21 995.37 L512.21 998 L509.2 1000.6 L506.19 1003.17 L503.18 1005.71 L500.18 1008.21 L497.17 1010.7 L494.16 1013.15 L491.15 1015.58 L488.14 1017.98 L485.14 1020.36 L482.13 1022.72 L479.12 1025.05 L476.11 1027.36 L473.11 1029.66 L470.1 1031.93 L467.09 1034.18 L464.08 1036.42 L461.07 1038.64 L458.07 1040.85 L455.06 1043.04 L452.05 1045.21 L449.04 1047.38 L446.04 1049.53 L443.03 1051.67 L440.02 1053.81 L437.01 1055.93 L434 1058.05 L431 1060.16 L427.99 1062.26 L424.98 1064.36 L421.97 1066.45 L418.97 1068.55 L415.96 1070.64 L412.95 1072.73 L409.94 1074.82 L406.94 1076.91 L403.93 1079 L400.92 1081.09 L397.91 1083.19 L394.9 1085.3 L391.9 1087.4 L388.89 1089.52 L385.88 1091.65 L382.87 1093.78 L379.87 1095.92 L376.86 1098.07 L373.85 1100.24Z" fill="#e1eef7"/>
<path d="M373.85 953.98 L376.86 954.37 L379.87 954.73 L382.87 955.08 L385.88 955.4 L388.89 955.71 L391.9 955.99 L394.9 956.25 L397.91 956.49 L400.92 956.7 L403.93 956.88 L406.94 957.04 L409.94 957.17 L412.95 957.27 L415.96 957.34 L418.97 957.37 L421.97 957.38 L424.98 957.35 L427.99 957.29 L431 957.19 L434 957.06 L437.01 956.89 L440.02 956.68 L443.03 956.43 L446.04 956.14 L449.04 955.81 L452.05 955.44 L455.06 955.03 L458.07 954.56 L461.07 954.06 L464.08 953.51 L467.09 952.91 L470.1 952.26 L473.11 951.56 L476.11 950.81 L479.12 950.01 L482.13 949.15 L485.14 948.25 L488.14 947.29 L491.15 946.27 L494.16 945.19 L497.17 944.06 L500.18 942.87 L503.18 941.62 L506.19 940.31 L509.2 938.94 L512.21 937.5 L515.21 936 L518.22 934.44 L521.23 932.81 L524.24 931.11 L527.25 929.34 L530.25 927.51 L533.26 925.6 L536.27 923.63 L539.28 921.58 L542.28 919.46 L545.29 917.27 L548.3 915 L551.31 912.65 L554.31 910.23 L557.32 907.73 L560.33 905.15 L563.34 902.49 L566.35 899.74 L569.35 896.92 L572.36 894.01 L575.37 891.03 L578.38 887.96 L581.38 884.81 L584.39 881.57 L587.4 878.26 L590.41 874.87 L593.42 871.39 L596.42 867.84 L599.43 864.21 L602.44 860.49 L605.45 856.7 L608.45 852.83 L611.46 848.89 L614.47 844.86 L617.48 840.76 L620.49 836.58 L623.49 832.32 L626.5 827.99 L629.51 823.58 L632.52 819.1 L635.52 814.54 L638.53 809.9 L641.54 805.19 L644.55 800.42 L647.55 795.59 L650.56 790.71 L653.57 785.82 L656.58 780.9 L659.59 775.99 L662.59 771.1 L665.6 766.23 L668.61 761.4 L671.62 756.62 L674.62 751.92 L677.63 747.29 L680.64 742.77 L683.65 738.35 L686.66 734.05 L689.66 729.89 L692.67 725.88 L695.68 722.04 L698.69 718.37 L701.69 714.89 L704.7 711.62 L707.71 708.56 L710.72 705.74 L713.73 703.16 L716.73 700.84 L719.74 698.78 L722.75 696.97 L725.76 695.41 L728.76 694.08 L731.77 692.97 L734.78 692.08 L737.79 691.4 L740.8 690.92 L743.8 690.64 L746.81 690.54 L749.82 690.61 L752.83 690.85 L755.83 691.25 L758.84 691.8 L761.85 692.49 L764.86 693.31 L767.86 694.26 L770.87 695.32 L773.88 696.49 L776.89 697.76 L779.9 699.13 L782.9 700.57 L785.91 702.09 L788.92 703.67 L791.93 705.32 L794.93 707.01 L797.94 708.74 L800.95 710.5 L803.96 712.29 L806.97 714.09 L809.97 715.9 L812.98 717.72 L815.99 719.52 L819 721.31 L822 723.07 L825.01 724.8 L828.02 726.48 L831.03 728.12 L834.04 729.7 L837.04 731.22 L840.05 732.66 L843.06 734.02 L846.07 735.31 L849.07 736.56 L852.08 737.76 L855.09 738.95 L858.1 740.13 L861.1 741.32 L864.11 742.53 L867.12 743.78 L870.13 745.07 L873.14 746.4 L876.14 747.76 L879.15 749.14 L882.16 750.55 L885.17 751.98 L888.17 753.41 L891.18 754.86 L894.19 756.31 L897.2 757.77 L900.21 759.21 L903.21 760.65 L906.22 762.07 L909.23 763.48 L912.24 764.86 L915.24 766.22 L918.25 767.54 L921.26 768.83 L924.27 770.08 L927.28 771.28 L930.28 772.43 L933.29 773.53 L936.3 774.57 L939.31 775.54 L942.31 776.45 L945.32 777.29 L948.33 778.06 L951.34 778.78 L954.35 779.43 L957.35 780.02 L960.36 780.56 L963.37 781.04 L966.38 781.47 L969.38 781.85 L972.39 782.18 L975.4 782.47 L978.41 782.71 L981.41 782.91 L984.42 783.07 L987.43 783.2 L990.44 783.29 L993.45 783.34 L996.45 783.37 L999.46 783.36 L1002.47 783.34 L1005.48 783.28 L1008.48 783.21 L1011.49 783.11 L1014.5 783" fill="none" stroke="#3572b4" stroke-width="5.9" stroke-linejoin="round"/>
<line x1="343" y1="799.25" x2="1045.5" y2="799.25" stroke="#000" stroke-width="3" stroke-dasharray="3.2 9.24" stroke-dashoffset="0.6"/>
<line x1="481.6" y1="628.25" x2="481.6" y2="1121" stroke="#555" stroke-width="1.2"/>
<line x1="540.6" y1="628.25" x2="540.6" y2="1121" stroke="#555" stroke-width="1.2"/>
<line x1="741.6" y1="628.25" x2="741.6" y2="1121" stroke="#555" stroke-width="1.2"/>
<rect x="343" y="628.25" width="702.5" height="492.75" fill="none" stroke="#000" stroke-width="2.6"/>
<text class="ti yl" text-anchor="middle" transform="translate(281.7 875.75) rotate(-90) scale(1 1.03)">Estimated effect (s)</text>
<text class="tk" text-anchor="end" x="327.5" y="655.75">2</text>
<text class="tk" text-anchor="end" x="327.5" y="811">0</text>
<text class="tk" text-anchor="end" x="327.5" y="966">-2</text>
<text class="tk" text-anchor="end" x="327.5" y="1122.25">-4</text>
<text class="tk" text-anchor="middle" x="481.9" y="1164">0.0</text>
<text class="tk" text-anchor="middle" x="671.5" y="1164">2.5</text>
<text class="tk" text-anchor="middle" x="861.9" y="1164">5.0</text>
<text class="ti" text-anchor="middle" x="694.25" y="1204">iTEMP [°C]</text>
<text class="tg" x="355" y="658.25">c)</text>
<text class="st" transform="translate(403.15 670.1) scale(1 1.2)">***</text>
<text class="bd" x="551" y="666.9">SW</text>
<text class="bd" x="551" y="708.65">IW</text>
<text class="bd" x="552" y="750.65">TAW</text>
<text class="bd" x="486" y="846.4">LW</text>
<text class="bd" x="397" y="1104.65">ArW</text>
<text class="bd" x="968.5" y="679.4">AW</text>
</g>
<g id="panel-d">
<path d="M1198 825 L1201.01 825.18 L1204.02 825.31 L1207.02 825.39 L1210.03 825.41 L1213.04 825.39 L1216.05 825.32 L1219.05 825.2 L1222.06 825.05 L1225.07 824.86 L1228.08 824.63 L1231.09 824.38 L1234.09 824.09 L1237.1 823.78 L1240.11 823.44 L1243.12 823.08 L1246.12 822.7 L1249.13 822.31 L1252.14 821.9 L1255.15 821.48 L1258.16 821.06 L1261.16 820.63 L1264.17 820.19 L1267.18 819.76 L1270.19 819.33 L1273.19 818.91 L1276.2 818.49 L1279.21 818.09 L1282.22 817.69 L1285.23 817.32 L1288.23 816.96 L1291.24 816.62 L1294.25 816.29 L1297.26 815.97 L1300.26 815.65 L1303.27 815.33 L1306.28 815.01 L1309.29 814.68 L1312.3 814.34 L1315.3 813.98 L1318.31 813.61 L1321.32 813.21 L1324.33 812.79 L1327.33 812.34 L1330.34 811.85 L1333.35 811.33 L1336.36 810.77 L1339.37 810.17 L1342.37 809.52 L1345.38 808.84 L1348.39 808.13 L1351.4 807.39 L1354.4 806.62 L1357.41 805.82 L1360.42 805 L1363.43 804.16 L1366.44 803.3 L1369.44 802.43 L1372.45 801.55 L1375.46 800.65 L1378.47 799.75 L1381.47 798.85 L1384.48 797.94 L1387.49 797.03 L1390.5 796.13 L1393.51 795.23 L1396.51 794.34 L1399.52 793.47 L1402.53 792.6 L1405.54 791.76 L1408.54 790.93 L1411.55 790.13 L1414.56 789.35 L1417.57 788.6 L1420.58 787.87 L1423.58 787.19 L1426.59 786.53 L1429.6 785.92 L1432.61 785.34 L1435.61 784.81 L1438.62 784.32 L1441.63 783.89 L1444.64 783.5 L1447.65 783.17 L1450.65 782.89 L1453.66 782.67 L1456.67 782.51 L1459.68 782.41 L1462.69 782.37 L1465.69 782.38 L1468.7 782.46 L1471.71 782.6 L1474.72 782.79 L1477.72 783.05 L1480.73 783.38 L1483.74 783.76 L1486.75 784.21 L1489.76 784.73 L1492.76 785.31 L1495.77 785.96 L1498.78 786.67 L1501.79 787.45 L1504.79 788.3 L1507.8 789.21 L1510.81 790.2 L1513.82 791.25 L1516.83 792.38 L1519.83 793.58 L1522.84 794.84 L1525.85 796.17 L1528.86 797.56 L1531.86 798.99 L1534.87 800.47 L1537.88 801.98 L1540.89 803.51 L1543.9 805.06 L1546.9 806.62 L1549.91 808.18 L1552.92 809.74 L1555.93 811.28 L1558.93 812.8 L1561.94 814.29 L1564.95 815.74 L1567.96 817.14 L1570.97 818.5 L1573.97 819.79 L1576.98 821.01 L1579.99 822.15 L1583 823.21 L1586 824.18 L1589.01 825.05 L1592.02 825.8 L1595.03 826.45 L1598.04 826.97 L1601.04 827.38 L1604.05 827.68 L1607.06 827.86 L1610.07 827.93 L1613.07 827.89 L1616.08 827.74 L1619.09 827.49 L1622.1 827.13 L1625.11 826.66 L1628.11 826.1 L1631.12 825.43 L1634.13 824.66 L1637.14 823.8 L1640.14 822.84 L1643.15 821.78 L1646.16 820.63 L1649.17 819.39 L1652.18 818.05 L1655.18 816.63 L1658.19 815.12 L1661.2 813.53 L1664.21 811.84 L1667.21 810.08 L1670.22 808.24 L1673.23 806.31 L1676.24 804.31 L1679.25 802.23 L1682.25 800.07 L1685.26 797.84 L1688.27 795.53 L1691.28 793.16 L1694.28 790.72 L1697.29 788.22 L1700.3 785.67 L1703.31 783.08 L1706.32 780.46 L1709.32 777.8 L1712.33 775.11 L1715.34 772.4 L1718.35 769.67 L1721.35 766.91 L1724.36 764.14 L1727.37 761.36 L1730.38 758.56 L1733.39 755.74 L1736.39 752.91 L1739.4 750.07 L1742.41 747.21 L1745.42 744.33 L1748.42 741.45 L1751.43 738.54 L1754.44 735.63 L1757.45 732.69 L1760.46 729.75 L1763.46 726.79 L1766.47 723.82 L1769.48 720.83 L1772.49 717.84 L1775.49 714.83 L1778.5 711.81 L1781.51 708.78 L1784.52 705.75 L1787.53 702.7 L1790.53 699.65 L1793.54 696.59 L1796.55 693.52 L1799.56 690.45 L1802.56 687.38 L1805.57 684.3 L1808.58 681.22 L1811.59 678.13 L1814.6 675.05 L1817.6 671.96 L1820.61 668.87 L1823.62 665.79 L1826.63 662.7 L1829.63 659.62 L1832.64 656.54 L1835.65 653.46 L1838.66 650.39 L1838.66 742.84 L1835.65 744.62 L1832.64 746.48 L1829.63 748.41 L1826.63 750.42 L1823.62 752.5 L1820.61 754.65 L1817.6 756.86 L1814.6 759.13 L1811.59 761.47 L1808.58 763.86 L1805.57 766.3 L1802.56 768.8 L1799.56 771.35 L1796.55 773.94 L1793.54 776.58 L1790.53 779.26 L1787.53 781.98 L1784.52 784.73 L1781.51 787.52 L1778.5 790.34 L1775.49 793.18 L1772.49 796.05 L1769.48 798.94 L1766.47 801.85 L1763.46 804.78 L1760.46 807.73 L1757.45 810.68 L1754.44 813.64 L1751.43 816.61 L1748.42 819.59 L1745.42 822.56 L1742.41 825.53 L1739.4 828.5 L1736.39 831.46 L1733.39 834.41 L1730.38 837.35 L1727.37 840.27 L1724.36 843.18 L1721.35 846.06 L1718.35 848.92 L1715.34 851.76 L1712.33 854.56 L1709.32 857.34 L1706.32 860.08 L1703.31 862.78 L1700.3 865.45 L1697.29 868.07 L1694.28 870.65 L1691.28 873.18 L1688.27 875.66 L1685.26 878.08 L1682.25 880.45 L1679.25 882.75 L1676.24 884.99 L1673.23 887.16 L1670.22 889.25 L1667.21 891.25 L1664.21 893.18 L1661.2 895.01 L1658.19 896.75 L1655.18 898.39 L1652.18 899.92 L1649.17 901.35 L1646.16 902.67 L1643.15 903.87 L1640.14 904.95 L1637.14 905.93 L1634.13 906.79 L1631.12 907.53 L1628.11 908.17 L1625.11 908.69 L1622.1 909.1 L1619.09 909.4 L1616.08 909.58 L1613.07 909.66 L1610.07 909.63 L1607.06 909.48 L1604.05 909.23 L1601.04 908.86 L1598.04 908.39 L1595.03 907.81 L1592.02 907.12 L1589.01 906.32 L1586 905.43 L1583 904.44 L1579.99 903.37 L1576.98 902.21 L1573.97 900.98 L1570.97 899.68 L1567.96 898.31 L1564.95 896.9 L1561.94 895.43 L1558.93 893.92 L1555.93 892.37 L1552.92 890.79 L1549.91 889.19 L1546.9 887.57 L1543.9 885.93 L1540.89 884.3 L1537.88 882.66 L1534.87 881.03 L1531.86 879.41 L1528.86 877.81 L1525.85 876.24 L1522.84 874.7 L1519.83 873.2 L1516.83 871.74 L1513.82 870.33 L1510.81 868.98 L1507.8 867.68 L1504.79 866.45 L1501.79 865.29 L1498.78 864.2 L1495.77 863.18 L1492.76 862.24 L1489.76 861.37 L1486.75 860.59 L1483.74 859.89 L1480.73 859.29 L1477.72 858.76 L1474.72 858.33 L1471.71 857.99 L1468.7 857.73 L1465.69 857.56 L1462.69 857.48 L1459.68 857.48 L1456.67 857.57 L1453.66 857.74 L1450.65 858 L1447.65 858.35 L1444.64 858.77 L1441.63 859.29 L1438.62 859.88 L1435.61 860.57 L1432.61 861.33 L1429.6 862.17 L1426.59 863.1 L1423.58 864.11 L1420.58 865.21 L1417.57 866.38 L1414.56 867.63 L1411.55 868.97 L1408.54 870.38 L1405.54 871.88 L1402.53 873.45 L1399.52 875.1 L1396.51 876.83 L1393.51 878.63 L1390.5 880.5 L1387.49 882.45 L1384.48 884.47 L1381.47 886.56 L1378.47 888.71 L1375.46 890.94 L1372.45 893.23 L1369.44 895.59 L1366.44 898.01 L1363.43 900.49 L1360.42 903.04 L1357.41 905.65 L1354.4 908.31 L1351.4 911.04 L1348.39 913.82 L1345.38 916.65 L1342.37 919.55 L1339.37 922.49 L1336.36 925.49 L1333.35 928.54 L1330.34 931.64 L1327.33 934.79 L1324.33 937.98 L1321.32 941.23 L1318.31 944.51 L1315.3 947.85 L1312.3 951.22 L1309.29 954.64 L1306.28 958.1 L1303.27 961.59 L1300.26 965.13 L1297.26 968.7 L1294.25 972.31 L1291.24 975.96 L1288.23 979.63 L1285.23 983.34 L1282.22 987.08 L1279.21 990.85 L1276.2 994.65 L1273.19 998.48 L1270.19 1002.34 L1267.18 1006.22 L1264.17 1010.12 L1261.16 1014.05 L1258.16 1018 L1255.15 1021.96 L1252.14 1025.95 L1249.13 1029.96 L1246.12 1033.99 L1243.12 1038.03 L1240.11 1042.08 L1237.1 1046.15 L1234.09 1050.23 L1231.09 1054.32 L1228.08 1058.43 L1225.07 1062.54 L1222.06 1066.66 L1219.05 1070.78 L1216.05 1074.91 L1213.04 1079.05 L1210.03 1083.19 L1207.02 1087.33 L1204.02 1091.47 L1201.01 1095.61 L1198 1099.75Z" fill="#e1eef7"/>
<path d="M1198 961.5 L1201.01 959.47 L1204.01 957.43 L1207.02 955.39 L1210.02 953.34 L1213.03 951.28 L1216.03 949.22 L1219.04 947.15 L1222.04 945.07 L1225.05 942.99 L1228.05 940.91 L1231.06 938.83 L1234.06 936.74 L1237.07 934.65 L1240.07 932.56 L1243.08 930.47 L1246.09 928.37 L1249.09 926.28 L1252.1 924.19 L1255.1 922.09 L1258.11 920 L1261.11 917.91 L1264.12 915.83 L1267.12 913.74 L1270.13 911.66 L1273.13 909.59 L1276.14 907.52 L1279.14 905.45 L1282.15 903.39 L1285.16 901.34 L1288.16 899.29 L1291.17 897.25 L1294.17 895.22 L1297.18 893.2 L1300.18 891.18 L1303.19 889.18 L1306.19 887.18 L1309.2 885.19 L1312.2 883.22 L1315.21 881.26 L1318.21 879.31 L1321.22 877.37 L1324.22 875.44 L1327.23 873.53 L1330.24 871.63 L1333.24 869.75 L1336.25 867.88 L1339.25 866.03 L1342.26 864.19 L1345.26 862.37 L1348.27 860.57 L1351.27 858.79 L1354.28 857.02 L1357.28 855.27 L1360.29 853.55 L1363.29 851.84 L1366.3 850.15 L1369.3 848.48 L1372.31 846.84 L1375.32 845.22 L1378.32 843.62 L1381.33 842.05 L1384.33 840.51 L1387.34 839 L1390.34 837.53 L1393.35 836.09 L1396.35 834.69 L1399.36 833.33 L1402.36 832.01 L1405.37 830.74 L1408.37 829.51 L1411.38 828.34 L1414.38 827.21 L1417.39 826.14 L1420.4 825.12 L1423.4 824.16 L1426.41 823.26 L1429.41 822.42 L1432.42 821.65 L1435.42 820.94 L1438.43 820.3 L1441.43 819.73 L1444.44 819.23 L1447.44 818.81 L1450.45 818.47 L1453.45 818.2 L1456.46 818.02 L1459.47 817.92 L1462.47 817.9 L1465.48 817.97 L1468.48 818.13 L1471.49 818.39 L1474.49 818.74 L1477.5 819.18 L1480.5 819.72 L1483.51 820.37 L1486.51 821.11 L1489.52 821.94 L1492.52 822.86 L1495.53 823.84 L1498.53 824.88 L1501.54 825.97 L1504.55 827.09 L1507.55 828.25 L1510.56 829.42 L1513.56 830.61 L1516.57 831.81 L1519.57 833.05 L1522.58 834.3 L1525.58 835.58 L1528.59 836.89 L1531.59 838.23 L1534.6 839.6 L1537.6 840.99 L1540.61 842.41 L1543.61 843.87 L1546.62 845.35 L1549.63 846.84 L1552.63 848.34 L1555.64 849.85 L1558.64 851.34 L1561.65 852.83 L1564.65 854.28 L1567.66 855.71 L1570.66 857.1 L1573.67 858.45 L1576.67 859.74 L1579.68 860.96 L1582.68 862.12 L1585.69 863.2 L1588.7 864.19 L1591.7 865.09 L1594.71 865.89 L1597.71 866.59 L1600.72 867.17 L1603.72 867.66 L1606.73 868.03 L1609.73 868.29 L1612.74 868.45 L1615.74 868.5 L1618.75 868.43 L1621.75 868.26 L1624.76 867.97 L1627.76 867.56 L1630.77 867.05 L1633.78 866.42 L1636.78 865.67 L1639.79 864.81 L1642.79 863.82 L1645.8 862.72 L1648.8 861.5 L1651.81 860.17 L1654.81 858.72 L1657.82 857.15 L1660.82 855.49 L1663.83 853.72 L1666.83 851.85 L1669.84 849.89 L1672.84 847.84 L1675.85 845.7 L1678.86 843.48 L1681.86 841.18 L1684.87 838.81 L1687.87 836.36 L1690.88 833.85 L1693.88 831.28 L1696.89 828.65 L1699.89 825.96 L1702.9 823.23 L1705.9 820.45 L1708.91 817.62 L1711.91 814.76 L1714.92 811.86 L1717.92 808.93 L1720.93 805.98 L1723.94 803 L1726.94 800.01 L1729.95 797 L1732.95 793.97 L1735.96 790.95 L1738.96 787.92 L1741.97 784.89 L1744.97 781.86 L1747.98 778.85 L1750.98 775.84 L1753.99 772.86 L1756.99 769.89 L1760 766.94 L1763.01 764.01 L1766.01 761.1 L1769.02 758.21 L1772.02 755.34 L1775.03 752.48 L1778.03 749.65 L1781.04 746.83 L1784.04 744.03 L1787.05 741.25 L1790.05 738.49 L1793.06 735.75 L1796.06 733.02 L1799.07 730.32 L1802.07 727.63 L1805.08 724.97 L1808.09 722.32 L1811.09 719.69 L1814.1 717.09 L1817.1 714.5 L1820.11 711.93 L1823.11 709.38 L1826.12 706.85 L1829.12 704.34 L1832.13 701.85 L1835.13 699.38 L1838.14 696.92" fill="none" stroke="#3572b4" stroke-width="5.9" stroke-linejoin="round"/>
<line x1="1167.5" y1="831.25" x2="1869.75" y2="831.25" stroke="#000" stroke-width="3" stroke-dasharray="3.2 9.24" stroke-dashoffset="0.6"/>
<line x1="1309.6" y1="628.25" x2="1309.6" y2="1121" stroke="#555" stroke-width="1.2"/>
<line x1="1370.6" y1="628.25" x2="1370.6" y2="1121" stroke="#555" stroke-width="1.2"/>
<line x1="1592.6" y1="628.25" x2="1592.6" y2="1121" stroke="#555" stroke-width="1.2"/>
<rect x="1167.5" y="628.25" width="702.25" height="492.75" fill="none" stroke="#000" stroke-width="2.6"/>
<text class="ti yl" text-anchor="middle" transform="translate(1105.45 875.75) rotate(-90) scale(1 1.03)">Estimated effect (s)</text>
<text class="tk" text-anchor="end" x="1151.5" y="702.5">2</text>
<text class="tk" text-anchor="end" x="1151.5" y="842.75">0</text>
<text class="tk" text-anchor="end" x="1151.5" y="983.5">-2</text>
<text class="tk" text-anchor="end" x="1151.5" y="1124.25">-4</text>
<text class="tk" text-anchor="middle" x="1309.75" y="1164">0</text>
<text class="tk" text-anchor="middle" x="1497.4" y="1164">2</text>
<text class="tk" text-anchor="middle" x="1685.9" y="1164">4</text>
<text class="ti" text-anchor="middle" x="1519" y="1204">bTEMP [°C]</text>
<text class="tg" x="1180" y="660">d)</text>
<text class="st" transform="translate(1229.15 671.6) scale(1 1.2)">***</text>
<text class="bd" x="1383.5" y="670.4">SW</text>
<text class="bd" x="1383.5" y="711.65">IW</text>
<text class="bd" x="1384.5" y="754.15">TAW</text>
<text class="bd" x="1313" y="998.65">LW</text>
<text class="bd" x="1229.5" y="1095.65">ArW</text>
<text class="bd" x="1803.5" y="820.4">AW</text>
</g>
<g id="panel-e">
<path d="M369.25 1531.25 L372.25 1530.55 L375.26 1529.85 L378.26 1529.15 L381.26 1528.46 L384.27 1527.76 L387.27 1527.07 L390.27 1526.38 L393.28 1525.69 L396.28 1525 L399.29 1524.32 L402.29 1523.64 L405.29 1522.96 L408.3 1522.28 L411.3 1521.6 L414.3 1520.92 L417.31 1520.24 L420.31 1519.57 L423.31 1518.9 L426.32 1518.23 L429.32 1517.56 L432.32 1516.89 L435.33 1516.22 L438.33 1515.56 L441.34 1514.89 L444.34 1514.23 L447.34 1513.57 L450.35 1512.91 L453.35 1512.25 L456.35 1511.59 L459.36 1510.93 L462.36 1510.28 L465.36 1509.62 L468.37 1508.97 L471.37 1508.31 L474.38 1507.66 L477.38 1507.01 L480.38 1506.36 L483.39 1505.71 L486.39 1505.06 L489.39 1504.41 L492.4 1503.76 L495.4 1503.12 L498.4 1502.47 L501.41 1501.83 L504.41 1501.18 L507.41 1500.54 L510.42 1499.89 L513.42 1499.25 L516.42 1498.61 L519.43 1497.96 L522.43 1497.32 L525.44 1496.68 L528.44 1496.04 L531.44 1495.39 L534.45 1494.75 L537.45 1494.11 L540.45 1493.47 L543.46 1492.83 L546.46 1492.19 L549.46 1491.55 L552.47 1490.91 L555.47 1490.27 L558.48 1489.63 L561.48 1488.99 L564.48 1488.35 L567.49 1487.71 L570.49 1487.07 L573.49 1486.43 L576.5 1485.79 L579.5 1485.14 L582.5 1484.5 L585.51 1483.86 L588.51 1483.22 L591.51 1482.58 L594.52 1481.93 L597.52 1481.29 L600.52 1480.65 L603.53 1480 L606.53 1479.36 L609.54 1478.71 L612.54 1478.07 L615.54 1477.42 L618.55 1476.77 L621.55 1476.12 L624.55 1475.48 L627.56 1474.83 L630.56 1474.18 L633.56 1473.52 L636.57 1472.87 L639.57 1472.22 L642.58 1471.57 L645.58 1470.91 L648.58 1470.26 L651.59 1469.6 L654.59 1468.94 L657.59 1468.28 L660.6 1467.62 L663.6 1466.96 L666.6 1466.3 L669.61 1465.64 L672.61 1464.97 L675.61 1464.31 L678.62 1463.64 L681.62 1462.97 L684.62 1462.3 L687.63 1461.63 L690.63 1460.96 L693.64 1460.28 L696.64 1459.6 L699.64 1458.93 L702.65 1458.25 L705.65 1457.57 L708.65 1456.89 L711.66 1456.2 L714.66 1455.52 L717.66 1454.83 L720.67 1454.14 L723.67 1453.45 L726.67 1452.76 L729.68 1452.06 L732.68 1451.37 L735.69 1450.67 L738.69 1449.97 L741.69 1449.26 L744.7 1448.56 L747.7 1447.85 L750.7 1447.14 L753.71 1446.42 L756.71 1445.7 L759.71 1444.97 L762.72 1444.24 L765.72 1443.5 L768.73 1442.75 L771.73 1441.99 L774.73 1441.22 L777.74 1440.44 L780.74 1439.64 L783.74 1438.84 L786.75 1438.03 L789.75 1437.2 L792.75 1436.35 L795.76 1435.49 L798.76 1434.62 L801.76 1433.73 L804.77 1432.82 L807.77 1431.9 L810.77 1430.95 L813.78 1429.99 L816.78 1429 L819.79 1428 L822.79 1426.97 L825.79 1425.92 L828.8 1424.85 L831.8 1423.76 L834.8 1422.64 L837.81 1421.49 L840.81 1420.32 L843.81 1419.13 L846.82 1417.9 L849.82 1416.65 L852.83 1415.37 L855.83 1414.05 L858.83 1412.71 L861.84 1411.34 L864.84 1409.93 L867.84 1408.5 L870.85 1407.03 L873.85 1405.52 L876.85 1403.98 L879.86 1402.41 L882.86 1400.79 L885.86 1399.14 L888.87 1397.46 L891.87 1395.73 L894.88 1393.97 L897.88 1392.17 L900.88 1390.34 L903.89 1388.48 L906.89 1386.58 L909.89 1384.66 L912.9 1382.7 L915.9 1380.73 L918.9 1378.72 L921.91 1376.7 L924.91 1374.66 L927.91 1372.59 L930.92 1370.51 L933.92 1368.42 L936.92 1366.31 L939.93 1364.19 L942.93 1362.06 L945.94 1359.92 L948.94 1357.78 L951.94 1355.63 L954.95 1353.48 L957.95 1351.32 L960.95 1349.17 L963.96 1347.02 L966.96 1344.87 L969.96 1342.73 L972.97 1340.59 L975.97 1338.47 L978.98 1336.35 L981.98 1334.25 L984.98 1332.16 L987.99 1330.09 L990.99 1328.03 L993.99 1326 L997 1323.98 L1000 1321.99 L1000 1400.01 L997 1400.66 L993.99 1401.3 L990.99 1401.93 L987.99 1402.56 L984.98 1403.18 L981.98 1403.8 L978.98 1404.41 L975.97 1405.03 L972.97 1405.65 L969.96 1406.26 L966.96 1406.88 L963.96 1407.51 L960.95 1408.13 L957.95 1408.77 L954.95 1409.41 L951.94 1410.06 L948.94 1410.72 L945.94 1411.39 L942.93 1412.08 L939.93 1412.77 L936.92 1413.48 L933.92 1414.21 L930.92 1414.95 L927.91 1415.71 L924.91 1416.49 L921.91 1417.29 L918.9 1418.11 L915.9 1418.96 L912.9 1419.83 L909.89 1420.72 L906.89 1421.64 L903.89 1422.59 L900.88 1423.56 L897.88 1424.57 L894.88 1425.6 L891.87 1426.67 L888.87 1427.77 L885.86 1428.91 L882.86 1430.07 L879.86 1431.27 L876.85 1432.51 L873.85 1433.77 L870.85 1435.06 L867.84 1436.39 L864.84 1437.74 L861.84 1439.12 L858.83 1440.53 L855.83 1441.96 L852.83 1443.43 L849.82 1444.91 L846.82 1446.43 L843.81 1447.96 L840.81 1449.52 L837.81 1451.11 L834.8 1452.71 L831.8 1454.34 L828.8 1455.99 L825.79 1457.66 L822.79 1459.35 L819.79 1461.06 L816.78 1462.78 L813.78 1464.53 L810.77 1466.29 L807.77 1468.07 L804.77 1469.86 L801.76 1471.67 L798.76 1473.49 L795.76 1475.33 L792.75 1477.18 L789.75 1479.04 L786.75 1480.91 L783.74 1482.79 L780.74 1484.69 L777.74 1486.59 L774.73 1488.51 L771.73 1490.43 L768.73 1492.36 L765.72 1494.3 L762.72 1496.24 L759.71 1498.19 L756.71 1500.14 L753.71 1502.1 L750.7 1504.07 L747.7 1506.04 L744.7 1508.02 L741.69 1510 L738.69 1511.99 L735.69 1513.99 L732.68 1515.99 L729.68 1517.99 L726.67 1520 L723.67 1522.02 L720.67 1524.04 L717.66 1526.06 L714.66 1528.09 L711.66 1530.13 L708.65 1532.17 L705.65 1534.21 L702.65 1536.26 L699.64 1538.31 L696.64 1540.37 L693.64 1542.43 L690.63 1544.5 L687.63 1546.57 L684.62 1548.64 L681.62 1550.72 L678.62 1552.8 L675.61 1554.88 L672.61 1556.97 L669.61 1559.06 L666.6 1561.15 L663.6 1563.25 L660.6 1565.35 L657.59 1567.46 L654.59 1569.56 L651.59 1571.67 L648.58 1573.79 L645.58 1575.9 L642.58 1578.02 L639.57 1580.14 L636.57 1582.27 L633.56 1584.39 L630.56 1586.52 L627.56 1588.65 L624.55 1590.78 L621.55 1592.92 L618.55 1595.05 L615.54 1597.19 L612.54 1599.33 L609.54 1601.47 L606.53 1603.62 L603.53 1605.76 L600.52 1607.91 L597.52 1610.06 L594.52 1612.21 L591.51 1614.36 L588.51 1616.51 L585.51 1618.66 L582.5 1620.81 L579.5 1622.97 L576.5 1625.12 L573.49 1627.28 L570.49 1629.43 L567.49 1631.59 L564.48 1633.75 L561.48 1635.9 L558.48 1638.06 L555.47 1640.22 L552.47 1642.38 L549.46 1644.53 L546.46 1646.69 L543.46 1648.85 L540.45 1651 L537.45 1653.16 L534.45 1655.31 L531.44 1657.47 L528.44 1659.62 L525.44 1661.78 L522.43 1663.93 L519.43 1666.08 L516.42 1668.23 L513.42 1670.38 L510.42 1672.53 L507.41 1674.68 L504.41 1676.82 L501.41 1678.97 L498.4 1681.11 L495.4 1683.25 L492.4 1685.39 L489.39 1687.52 L486.39 1689.66 L483.39 1691.79 L480.38 1693.92 L477.38 1696.05 L474.38 1698.18 L471.37 1700.3 L468.37 1702.43 L465.36 1704.54 L462.36 1706.66 L459.36 1708.77 L456.35 1710.89 L453.35 1712.99 L450.35 1715.1 L447.34 1717.2 L444.34 1719.3 L441.34 1721.4 L438.33 1723.49 L435.33 1725.58 L432.32 1727.66 L429.32 1729.74 L426.32 1731.82 L423.31 1733.9 L420.31 1735.97 L417.31 1738.03 L414.3 1740.09 L411.3 1742.15 L408.3 1744.21 L405.29 1746.26 L402.29 1748.3 L399.29 1750.34 L396.28 1752.38 L393.28 1754.41 L390.27 1756.44 L387.27 1758.46 L384.27 1760.48 L381.26 1762.49 L378.26 1764.49 L375.26 1766.5 L372.25 1768.49 L369.25 1770.48Z" fill="#e1eef7"/>
<path d="M369.25 1650.5 L1000 1361.25" fill="none" stroke="#3572b4" stroke-width="5.9" stroke-linejoin="round"/>
<line x1="339.25" y1="1455" x2="1030.5" y2="1455" stroke="#000" stroke-width="3" stroke-dasharray="3.2 9.24" stroke-dashoffset="0.6"/>
<line x1="650.6" y1="1300.2" x2="650.6" y2="1792.2" stroke="#555" stroke-width="1.2"/>
<line x1="867.6" y1="1300.2" x2="867.6" y2="1792.2" stroke="#555" stroke-width="1.2"/>
<line x1="950.6" y1="1300.2" x2="950.6" y2="1792.2" stroke="#555" stroke-width="1.2"/>
<rect x="339.25" y="1300.2" width="691.25" height="492" fill="none" stroke="#000" stroke-width="2.6"/>
<text class="ti yl" text-anchor="middle" transform="translate(260.45 1546.25) rotate(-90) scale(1 1.03)">Estimated effect (s)</text>
<text class="tk" text-anchor="end" x="323" y="1337">5</text>
<text class="tk" text-anchor="end" x="323" y="1467">0</text>
<text class="tk" text-anchor="end" x="323" y="1596.5">-5</text>
<text class="tk" text-anchor="end" x="323" y="1726.8">-10</text>
<text class="tk" text-anchor="middle" x="317.5" y="1834">33.0</text>
<text class="tk" text-anchor="middle" x="484.75" y="1834">33.5</text>
<text class="tk" text-anchor="middle" x="652.5" y="1834">34.0</text>
<text class="tk" text-anchor="middle" x="820" y="1834">34.5</text>
<text class="tk" text-anchor="middle" x="987.5" y="1834">35.0</text>
<text class="ti" text-anchor="middle" x="684" y="1875">iSAL [PSU]</text>
<text class="tg" x="351" y="1331.25">e)</text>
<text class="bd" x="367.5" y="1511.4">SW</text>
<text class="bd" x="734.25" y="1341.15">IW</text>
<text class="bd" x="873" y="1339.9">TAW</text>
<text class="bd" x="968.5" y="1443.15">AW</text>
</g>
<g id="panel-f">
<path d="M1182.25 1322.45 L1185.25 1324.01 L1188.26 1325.52 L1191.26 1326.99 L1194.27 1328.41 L1197.27 1329.78 L1200.28 1331.11 L1203.28 1332.39 L1206.29 1333.64 L1209.29 1334.84 L1212.3 1335.99 L1215.3 1337.11 L1218.31 1338.18 L1221.31 1339.22 L1224.32 1340.21 L1227.32 1341.17 L1230.33 1342.09 L1233.33 1342.97 L1236.34 1343.82 L1239.34 1344.63 L1242.35 1345.4 L1245.35 1346.14 L1248.35 1346.85 L1251.36 1347.52 L1254.36 1348.16 L1257.37 1348.77 L1260.37 1349.35 L1263.38 1349.9 L1266.38 1350.42 L1269.39 1350.9 L1272.39 1351.36 L1275.4 1351.8 L1278.4 1352.2 L1281.41 1352.58 L1284.41 1352.94 L1287.42 1353.26 L1290.42 1353.57 L1293.43 1353.85 L1296.43 1354.11 L1299.44 1354.34 L1302.44 1354.55 L1305.45 1354.75 L1308.45 1354.92 L1311.45 1355.07 L1314.46 1355.21 L1317.46 1355.32 L1320.47 1355.42 L1323.47 1355.5 L1326.48 1355.57 L1329.48 1355.62 L1332.49 1355.65 L1335.49 1355.67 L1338.5 1355.68 L1341.5 1355.67 L1344.51 1355.65 L1347.51 1355.63 L1350.52 1355.59 L1353.52 1355.54 L1356.53 1355.48 L1359.53 1355.41 L1362.54 1355.33 L1365.54 1355.25 L1368.55 1355.16 L1371.55 1355.06 L1374.55 1354.96 L1377.56 1354.86 L1380.56 1354.75 L1383.57 1354.63 L1386.57 1354.52 L1389.58 1354.4 L1392.58 1354.28 L1395.59 1354.16 L1398.59 1354.04 L1401.6 1353.92 L1404.6 1353.81 L1407.61 1353.69 L1410.61 1353.58 L1413.62 1353.47 L1416.62 1353.36 L1419.63 1353.27 L1422.63 1353.17 L1425.64 1353.08 L1428.64 1353 L1431.65 1352.93 L1434.65 1352.86 L1437.65 1352.81 L1440.66 1352.76 L1443.66 1352.73 L1446.67 1352.7 L1449.67 1352.69 L1452.68 1352.69 L1455.68 1352.7 L1458.69 1352.72 L1461.69 1352.76 L1464.7 1352.82 L1467.7 1352.89 L1470.71 1352.98 L1473.71 1353.08 L1476.72 1353.2 L1479.72 1353.34 L1482.73 1353.5 L1485.73 1353.68 L1488.74 1353.88 L1491.74 1354.1 L1494.75 1354.35 L1497.75 1354.61 L1500.75 1354.9 L1503.76 1355.21 L1506.76 1355.55 L1509.77 1355.91 L1512.77 1356.3 L1515.78 1356.71 L1518.78 1357.15 L1521.79 1357.62 L1524.79 1358.1 L1527.8 1358.62 L1530.8 1359.15 L1533.81 1359.72 L1536.81 1360.3 L1539.82 1360.91 L1542.82 1361.55 L1545.83 1362.21 L1548.83 1362.89 L1551.84 1363.6 L1554.84 1364.33 L1557.85 1365.08 L1560.85 1365.86 L1563.85 1366.66 L1566.86 1367.48 L1569.86 1368.32 L1572.87 1369.19 L1575.87 1370.08 L1578.88 1371 L1581.88 1371.93 L1584.89 1372.89 L1587.89 1373.87 L1590.9 1374.87 L1593.9 1375.9 L1596.91 1376.94 L1599.91 1378.01 L1602.92 1379.1 L1605.92 1380.21 L1608.93 1381.34 L1611.93 1382.49 L1614.94 1383.66 L1617.94 1384.86 L1620.95 1386.07 L1623.95 1387.31 L1626.95 1388.56 L1629.96 1389.84 L1632.96 1391.13 L1635.97 1392.45 L1638.97 1393.78 L1641.98 1395.13 L1644.98 1396.51 L1647.99 1397.9 L1650.99 1399.31 L1654 1400.75 L1657 1402.2 L1660.01 1403.67 L1663.01 1405.15 L1666.02 1406.66 L1669.02 1408.18 L1672.03 1409.72 L1675.03 1411.27 L1678.04 1412.83 L1681.04 1414.4 L1684.05 1415.99 L1687.05 1417.59 L1690.05 1419.19 L1693.06 1420.81 L1696.06 1422.43 L1699.07 1424.06 L1702.07 1425.69 L1705.08 1427.33 L1708.08 1428.97 L1711.09 1430.61 L1714.09 1432.26 L1717.1 1433.9 L1720.1 1435.55 L1723.11 1437.19 L1726.11 1438.83 L1729.12 1440.47 L1732.12 1442.1 L1735.13 1443.72 L1738.13 1445.34 L1741.14 1446.96 L1744.14 1448.56 L1747.15 1450.15 L1750.15 1451.74 L1753.15 1453.31 L1756.16 1454.87 L1759.16 1456.41 L1762.17 1457.95 L1765.17 1459.46 L1768.18 1460.96 L1771.18 1462.44 L1774.19 1463.91 L1777.19 1465.35 L1780.2 1466.78 L1783.2 1468.18 L1786.21 1469.56 L1789.21 1470.91 L1792.22 1472.25 L1795.22 1473.55 L1798.23 1474.83 L1801.23 1476.09 L1804.24 1477.31 L1807.24 1478.51 L1810.25 1479.67 L1813.25 1480.81 L1813.25 1770.5 L1810.25 1765.69 L1807.24 1760.9 L1804.24 1756.12 L1801.23 1751.37 L1798.23 1746.64 L1795.22 1741.95 L1792.22 1737.29 L1789.21 1732.67 L1786.21 1728.1 L1783.2 1723.58 L1780.2 1719.12 L1777.19 1714.72 L1774.19 1710.38 L1771.18 1706.11 L1768.18 1701.92 L1765.17 1697.81 L1762.17 1693.78 L1759.16 1689.84 L1756.16 1685.99 L1753.15 1682.23 L1750.15 1678.56 L1747.15 1674.96 L1744.14 1671.43 L1741.14 1667.95 L1738.13 1664.52 L1735.13 1661.13 L1732.12 1657.78 L1729.12 1654.45 L1726.11 1651.14 L1723.11 1647.83 L1720.1 1644.53 L1717.1 1641.21 L1714.09 1637.88 L1711.09 1634.53 L1708.08 1631.15 L1705.08 1627.75 L1702.07 1624.33 L1699.07 1620.91 L1696.06 1617.51 L1693.06 1614.12 L1690.05 1610.76 L1687.05 1607.45 L1684.05 1604.19 L1681.04 1600.99 L1678.04 1597.86 L1675.03 1594.79 L1672.03 1591.79 L1669.02 1588.84 L1666.02 1585.95 L1663.01 1583.12 L1660.01 1580.34 L1657 1577.61 L1654 1574.94 L1650.99 1572.31 L1647.99 1569.72 L1644.98 1567.18 L1641.98 1564.68 L1638.97 1562.23 L1635.97 1559.81 L1632.96 1557.42 L1629.96 1555.07 L1626.95 1552.75 L1623.95 1550.47 L1620.95 1548.21 L1617.94 1545.98 L1614.94 1543.78 L1611.93 1541.62 L1608.93 1539.48 L1605.92 1537.37 L1602.92 1535.28 L1599.91 1533.23 L1596.91 1531.21 L1593.9 1529.21 L1590.9 1527.24 L1587.89 1525.29 L1584.89 1523.38 L1581.88 1521.48 L1578.88 1519.62 L1575.87 1517.78 L1572.87 1515.97 L1569.86 1514.18 L1566.86 1512.42 L1563.85 1510.68 L1560.85 1508.97 L1557.85 1507.28 L1554.84 1505.62 L1551.84 1503.97 L1548.83 1502.36 L1545.83 1500.76 L1542.82 1499.19 L1539.82 1497.64 L1536.81 1496.11 L1533.81 1494.61 L1530.8 1493.12 L1527.8 1491.66 L1524.79 1490.22 L1521.79 1488.8 L1518.78 1487.4 L1515.78 1486.02 L1512.77 1484.66 L1509.77 1483.32 L1506.76 1482 L1503.76 1480.7 L1500.75 1479.42 L1497.75 1478.16 L1494.75 1476.93 L1491.74 1475.72 L1488.74 1474.54 L1485.73 1473.39 L1482.73 1472.26 L1479.72 1471.17 L1476.72 1470.1 L1473.71 1469.06 L1470.71 1468.05 L1467.7 1467.08 L1464.7 1466.14 L1461.69 1465.23 L1458.69 1464.36 L1455.68 1463.53 L1452.68 1462.73 L1449.67 1461.98 L1446.67 1461.26 L1443.66 1460.58 L1440.66 1459.94 L1437.65 1459.35 L1434.65 1458.8 L1431.65 1458.29 L1428.64 1457.83 L1425.64 1457.41 L1422.63 1457.04 L1419.63 1456.72 L1416.62 1456.45 L1413.62 1456.22 L1410.61 1456.05 L1407.61 1455.93 L1404.6 1455.87 L1401.6 1455.86 L1398.59 1455.9 L1395.59 1456 L1392.58 1456.15 L1389.58 1456.36 L1386.57 1456.62 L1383.57 1456.94 L1380.56 1457.31 L1377.56 1457.73 L1374.55 1458.21 L1371.55 1458.75 L1368.55 1459.33 L1365.54 1459.97 L1362.54 1460.67 L1359.53 1461.41 L1356.53 1462.21 L1353.52 1463.06 L1350.52 1463.97 L1347.51 1464.92 L1344.51 1465.93 L1341.5 1466.99 L1338.5 1468.1 L1335.49 1469.27 L1332.49 1470.48 L1329.48 1471.75 L1326.48 1473.06 L1323.47 1474.43 L1320.47 1475.85 L1317.46 1477.32 L1314.46 1478.83 L1311.45 1480.4 L1308.45 1482.02 L1305.45 1483.69 L1302.44 1485.4 L1299.44 1487.17 L1296.43 1488.98 L1293.43 1490.85 L1290.42 1492.76 L1287.42 1494.72 L1284.41 1496.74 L1281.41 1498.81 L1278.4 1500.93 L1275.4 1503.11 L1272.39 1505.35 L1269.39 1507.64 L1266.38 1510 L1263.38 1512.42 L1260.37 1514.9 L1257.37 1517.45 L1254.36 1520.07 L1251.36 1522.76 L1248.35 1525.51 L1245.35 1528.34 L1242.35 1531.24 L1239.34 1534.2 L1236.34 1537.23 L1233.33 1540.31 L1230.33 1543.44 L1227.32 1546.6 L1224.32 1549.79 L1221.31 1553 L1218.31 1556.22 L1215.3 1559.44 L1212.3 1562.66 L1209.29 1565.87 L1206.29 1569.05 L1203.28 1572.2 L1200.28 1575.32 L1197.27 1578.39 L1194.27 1581.4 L1191.26 1584.35 L1188.26 1587.23 L1185.25 1590.03 L1182.25 1592.74Z" fill="#e1eef7"/>
<path d="M1182.25 1456.99 L1185.25 1456.19 L1188.25 1455.38 L1191.25 1454.57 L1194.25 1453.74 L1197.26 1452.9 L1200.26 1452.06 L1203.26 1451.2 L1206.26 1450.34 L1209.26 1449.48 L1212.26 1448.61 L1215.26 1447.73 L1218.26 1446.85 L1221.27 1445.96 L1224.27 1445.07 L1227.27 1444.18 L1230.27 1443.28 L1233.27 1442.38 L1236.27 1441.48 L1239.27 1440.58 L1242.27 1439.68 L1245.28 1438.78 L1248.28 1437.88 L1251.28 1436.99 L1254.28 1436.09 L1257.28 1435.19 L1260.28 1434.3 L1263.28 1433.42 L1266.28 1432.53 L1269.28 1431.65 L1272.29 1430.78 L1275.29 1429.91 L1278.29 1429.05 L1281.29 1428.19 L1284.29 1427.34 L1287.29 1426.5 L1290.29 1425.67 L1293.29 1424.85 L1296.3 1424.03 L1299.3 1423.23 L1302.3 1422.44 L1305.3 1421.66 L1308.3 1420.89 L1311.3 1420.13 L1314.3 1419.38 L1317.3 1418.65 L1320.3 1417.93 L1323.31 1417.23 L1326.31 1416.54 L1329.31 1415.87 L1332.31 1415.21 L1335.31 1414.57 L1338.31 1413.95 L1341.31 1413.35 L1344.31 1412.76 L1347.32 1412.19 L1350.32 1411.64 L1353.32 1411.12 L1356.32 1410.61 L1359.32 1410.12 L1362.32 1409.66 L1365.32 1409.21 L1368.32 1408.79 L1371.33 1408.39 L1374.33 1408.02 L1377.33 1407.67 L1380.33 1407.35 L1383.33 1407.05 L1386.33 1406.78 L1389.33 1406.53 L1392.33 1406.31 L1395.33 1406.12 L1398.34 1405.96 L1401.34 1405.82 L1404.34 1405.72 L1407.34 1405.64 L1410.34 1405.59 L1413.34 1405.57 L1416.34 1405.58 L1419.34 1405.61 L1422.35 1405.68 L1425.35 1405.77 L1428.35 1405.88 L1431.35 1406.03 L1434.35 1406.2 L1437.35 1406.39 L1440.35 1406.61 L1443.35 1406.86 L1446.35 1407.13 L1449.36 1407.43 L1452.36 1407.75 L1455.36 1408.1 L1458.36 1408.47 L1461.36 1408.87 L1464.36 1409.29 L1467.36 1409.73 L1470.36 1410.2 L1473.37 1410.69 L1476.37 1411.2 L1479.37 1411.73 L1482.37 1412.29 L1485.37 1412.87 L1488.37 1413.47 L1491.37 1414.09 L1494.37 1414.74 L1497.38 1415.4 L1500.38 1416.09 L1503.38 1416.8 L1506.38 1417.52 L1509.38 1418.27 L1512.38 1419.03 L1515.38 1419.82 L1518.38 1420.63 L1521.38 1421.45 L1524.39 1422.3 L1527.39 1423.17 L1530.39 1424.07 L1533.39 1424.98 L1536.39 1425.92 L1539.39 1426.89 L1542.39 1427.88 L1545.39 1428.89 L1548.4 1429.93 L1551.4 1431 L1554.4 1432.09 L1557.4 1433.21 L1560.4 1434.36 L1563.4 1435.54 L1566.4 1436.74 L1569.4 1437.98 L1572.4 1439.24 L1575.41 1440.54 L1578.41 1441.87 L1581.41 1443.23 L1584.41 1444.62 L1587.41 1446.04 L1590.41 1447.5 L1593.41 1448.99 L1596.41 1450.52 L1599.42 1452.08 L1602.42 1453.68 L1605.42 1455.31 L1608.42 1456.98 L1611.42 1458.69 L1614.42 1460.44 L1617.42 1462.22 L1620.42 1464.04 L1623.42 1465.9 L1626.43 1467.8 L1629.43 1469.74 L1632.43 1471.72 L1635.43 1473.73 L1638.43 1475.78 L1641.43 1477.87 L1644.43 1479.99 L1647.43 1482.14 L1650.44 1484.32 L1653.44 1486.54 L1656.44 1488.78 L1659.44 1491.06 L1662.44 1493.36 L1665.44 1495.69 L1668.44 1498.05 L1671.44 1500.43 L1674.45 1502.84 L1677.45 1505.27 L1680.45 1507.73 L1683.45 1510.2 L1686.45 1512.7 L1689.45 1515.22 L1692.45 1517.76 L1695.45 1520.32 L1698.45 1522.89 L1701.46 1525.49 L1704.46 1528.1 L1707.46 1530.72 L1710.46 1533.36 L1713.46 1536.01 L1716.46 1538.67 L1719.46 1541.34 L1722.46 1544.03 L1725.47 1546.72 L1728.47 1549.43 L1731.47 1552.14 L1734.47 1554.86 L1737.47 1557.58 L1740.47 1560.31 L1743.47 1563.04 L1746.47 1565.78 L1749.47 1568.52 L1752.48 1571.26 L1755.48 1574 L1758.48 1576.75 L1761.48 1579.49 L1764.48 1582.22 L1767.48 1584.96 L1770.48 1587.69 L1773.48 1590.42 L1776.49 1593.14 L1779.49 1595.85 L1782.49 1598.56 L1785.49 1601.26 L1788.49 1603.95 L1791.49 1606.63 L1794.49 1609.3 L1797.49 1611.95 L1800.5 1614.6 L1803.5 1617.23 L1806.5 1619.84 L1809.5 1622.44 L1812.5 1625.02" fill="none" stroke="#3572b4" stroke-width="5.9" stroke-linejoin="round"/>
<line x1="1152" y1="1441.25" x2="1843.75" y2="1441.25" stroke="#000" stroke-width="3" stroke-dasharray="3.2 9.24" stroke-dashoffset="2.6"/>
<line x1="1374.6" y1="1300" x2="1374.6" y2="1791.5" stroke="#555" stroke-width="1.2"/>
<line x1="1608.6" y1="1300" x2="1608.6" y2="1791.5" stroke="#555" stroke-width="1.2"/>
<rect x="1152" y="1300" width="691.75" height="491.5" fill="none" stroke="#000" stroke-width="2.6"/>
<text class="ti yl" text-anchor="middle" transform="translate(1089.45 1546.25) rotate(-90) scale(1 1.03)">Estimated effect (s)</text>
<text class="tk" text-anchor="end" x="1135.5" y="1452.75">0</text>
<text class="tk" text-anchor="end" x="1135.5" y="1597.25">-2</text>
<text class="tk" text-anchor="end" x="1135.5" y="1742.25">-4</text>
<text class="tk" text-anchor="middle" x="1132" y="1834">34.5</text>
<text class="tk" text-anchor="middle" x="1249.5" y="1834">34.6</text>
<text class="tk" text-anchor="middle" x="1367" y="1834">34.7</text>
<text class="tk" text-anchor="middle" x="1484.25" y="1834">34.8</text>
<text class="tk" text-anchor="middle" x="1601.75" y="1834">34.9</text>
<text class="tk" text-anchor="middle" x="1719.25" y="1834">35.0</text>
<text class="ti" text-anchor="middle" x="1497.5" y="1875">bSAL [PSU]</text>
<text class="tg" x="1163" y="1331.25">f)</text>
<text class="bd" x="1175" y="1643.4">IW</text>
<text class="bd" x="1457.5" y="1336.4">TAW</text>
<text class="bd" x="1767.5" y="1419.9">AW</text>
</g>
<g id="panel-g">
<path d="M369.25 2129.99 L372.26 2129.79 L375.27 2129.59 L378.28 2129.4 L381.28 2129.21 L384.29 2129.03 L387.3 2128.85 L390.31 2128.67 L393.32 2128.5 L396.33 2128.33 L399.33 2128.17 L402.34 2128.01 L405.35 2127.85 L408.36 2127.69 L411.37 2127.54 L414.38 2127.39 L417.39 2127.24 L420.39 2127.09 L423.4 2126.94 L426.41 2126.8 L429.42 2126.66 L432.43 2126.51 L435.44 2126.37 L438.44 2126.23 L441.45 2126.09 L444.46 2125.95 L447.47 2125.81 L450.48 2125.67 L453.49 2125.53 L456.5 2125.39 L459.5 2125.25 L462.51 2125.11 L465.52 2124.97 L468.53 2124.82 L471.54 2124.68 L474.55 2124.53 L477.55 2124.38 L480.56 2124.23 L483.57 2124.08 L486.58 2123.92 L489.59 2123.76 L492.6 2123.6 L495.61 2123.44 L498.61 2123.27 L501.62 2123.1 L504.63 2122.93 L507.64 2122.75 L510.65 2122.57 L513.66 2122.38 L516.66 2122.19 L519.67 2121.99 L522.68 2121.79 L525.69 2121.59 L528.7 2121.38 L531.71 2121.16 L534.71 2120.94 L537.72 2120.71 L540.73 2120.48 L543.74 2120.24 L546.75 2120 L549.76 2119.74 L552.77 2119.49 L555.77 2119.22 L558.78 2118.95 L561.79 2118.67 L564.8 2118.38 L567.81 2118.08 L570.82 2117.78 L573.82 2117.47 L576.83 2117.15 L579.84 2116.82 L582.85 2116.48 L585.86 2116.14 L588.87 2115.78 L591.88 2115.42 L594.88 2115.04 L597.89 2114.66 L600.9 2114.27 L603.91 2113.86 L606.92 2113.45 L609.93 2113.02 L612.93 2112.59 L615.94 2112.14 L618.95 2111.68 L621.96 2111.22 L624.97 2110.74 L627.98 2110.24 L630.99 2109.74 L633.99 2109.22 L637 2108.7 L640.01 2108.16 L643.02 2107.6 L646.03 2107.04 L649.04 2106.46 L652.04 2105.87 L655.05 2105.26 L658.06 2104.64 L661.07 2104.01 L664.08 2103.36 L667.09 2102.7 L670.1 2102.02 L673.1 2101.33 L676.11 2100.63 L679.12 2099.91 L682.13 2099.17 L685.14 2098.42 L688.15 2097.66 L691.15 2096.87 L694.16 2096.08 L697.17 2095.26 L700.18 2094.43 L703.19 2093.58 L706.2 2092.72 L709.21 2091.84 L712.21 2090.94 L715.22 2090.02 L718.23 2089.09 L721.24 2088.14 L724.25 2087.17 L727.26 2086.18 L730.26 2085.18 L733.27 2084.15 L736.28 2083.11 L739.29 2082.05 L742.3 2080.97 L745.31 2079.87 L748.32 2078.75 L751.32 2077.61 L754.33 2076.45 L757.34 2075.27 L760.35 2074.07 L763.36 2072.85 L766.37 2071.6 L769.37 2070.34 L772.38 2069.06 L775.39 2067.76 L778.4 2066.44 L781.41 2065.09 L784.42 2063.73 L787.43 2062.35 L790.43 2060.95 L793.44 2059.53 L796.45 2058.09 L799.46 2056.64 L802.47 2055.17 L805.48 2053.68 L808.48 2052.17 L811.49 2050.64 L814.5 2049.1 L817.51 2047.54 L820.52 2045.97 L823.53 2044.38 L826.54 2042.77 L829.54 2041.15 L832.55 2039.51 L835.56 2037.86 L838.57 2036.19 L841.58 2034.51 L844.59 2032.81 L847.59 2031.1 L850.6 2029.37 L853.61 2027.63 L856.62 2025.88 L859.63 2024.12 L862.64 2022.34 L865.64 2020.55 L868.65 2018.75 L871.66 2016.94 L874.67 2015.11 L877.68 2013.27 L880.69 2011.42 L883.7 2009.56 L886.7 2007.69 L889.71 2005.81 L892.72 2003.92 L895.73 2002.02 L898.74 2000.11 L901.75 1998.19 L904.75 1996.26 L907.76 1994.32 L910.77 1992.37 L913.78 1990.42 L916.79 1988.45 L919.8 1986.48 L922.81 1984.5 L925.81 1982.52 L928.82 1980.52 L931.83 1978.52 L934.84 1976.51 L937.85 1974.5 L940.86 1972.48 L943.86 1970.45 L946.87 1968.42 L949.88 1966.39 L952.89 1964.34 L955.9 1962.3 L958.91 1960.25 L961.92 1958.19 L964.92 1956.13 L967.93 1954.07 L970.94 1952 L973.95 1949.93 L976.96 1947.85 L979.97 1945.78 L982.97 1943.7 L985.98 1941.62 L988.99 1939.53 L992 1937.45 L992 2127.56 L988.99 2127.57 L985.98 2127.59 L982.97 2127.61 L979.97 2127.64 L976.96 2127.67 L973.95 2127.71 L970.94 2127.76 L967.93 2127.81 L964.92 2127.87 L961.92 2127.93 L958.91 2128 L955.9 2128.08 L952.89 2128.17 L949.88 2128.26 L946.87 2128.36 L943.86 2128.47 L940.86 2128.58 L937.85 2128.71 L934.84 2128.84 L931.83 2128.98 L928.82 2129.13 L925.81 2129.29 L922.81 2129.46 L919.8 2129.64 L916.79 2129.83 L913.78 2130.02 L910.77 2130.23 L907.76 2130.45 L904.75 2130.68 L901.75 2130.91 L898.74 2131.16 L895.73 2131.42 L892.72 2131.7 L889.71 2131.98 L886.7 2132.27 L883.7 2132.58 L880.69 2132.9 L877.68 2133.23 L874.67 2133.57 L871.66 2133.93 L868.65 2134.3 L865.64 2134.68 L862.64 2135.07 L859.63 2135.48 L856.62 2135.9 L853.61 2136.34 L850.6 2136.79 L847.59 2137.25 L844.59 2137.73 L841.58 2138.23 L838.57 2138.74 L835.56 2139.26 L832.55 2139.8 L829.54 2140.35 L826.54 2140.92 L823.53 2141.51 L820.52 2142.11 L817.51 2142.73 L814.5 2143.36 L811.49 2144.01 L808.48 2144.68 L805.48 2145.36 L802.47 2146.07 L799.46 2146.79 L796.45 2147.52 L793.44 2148.28 L790.43 2149.05 L787.43 2149.84 L784.42 2150.65 L781.41 2151.48 L778.4 2152.33 L775.39 2153.2 L772.38 2154.08 L769.37 2154.99 L766.37 2155.92 L763.36 2156.86 L760.35 2157.83 L757.34 2158.81 L754.33 2159.81 L751.32 2160.84 L748.32 2161.88 L745.31 2162.94 L742.3 2164.02 L739.29 2165.12 L736.28 2166.24 L733.27 2167.38 L730.26 2168.53 L727.26 2169.7 L724.25 2170.89 L721.24 2172.1 L718.23 2173.33 L715.22 2174.57 L712.21 2175.83 L709.21 2177.11 L706.2 2178.4 L703.19 2179.71 L700.18 2181.03 L697.17 2182.38 L694.16 2183.73 L691.15 2185.11 L688.15 2186.5 L685.14 2187.9 L682.13 2189.32 L679.12 2190.76 L676.11 2192.21 L673.1 2193.67 L670.1 2195.15 L667.09 2196.64 L664.08 2198.15 L661.07 2199.67 L658.06 2201.21 L655.05 2202.76 L652.04 2204.32 L649.04 2205.9 L646.03 2207.49 L643.02 2209.09 L640.01 2210.71 L637 2212.33 L633.99 2213.97 L630.99 2215.63 L627.98 2217.29 L624.97 2218.97 L621.96 2220.66 L618.95 2222.35 L615.94 2224.07 L612.93 2225.79 L609.93 2227.52 L606.92 2229.26 L603.91 2231.02 L600.9 2232.78 L597.89 2234.56 L594.88 2236.35 L591.88 2238.14 L588.87 2239.95 L585.86 2241.76 L582.85 2243.58 L579.84 2245.42 L576.83 2247.26 L573.82 2249.11 L570.82 2250.97 L567.81 2252.84 L564.8 2254.72 L561.79 2256.6 L558.78 2258.49 L555.77 2260.39 L552.77 2262.3 L549.76 2264.22 L546.75 2266.14 L543.74 2268.07 L540.73 2270.01 L537.72 2271.95 L534.71 2273.9 L531.71 2275.86 L528.7 2277.82 L525.69 2279.79 L522.68 2281.77 L519.67 2283.75 L516.66 2285.73 L513.66 2287.72 L510.65 2289.72 L507.64 2291.72 L504.63 2293.73 L501.62 2295.74 L498.61 2297.75 L495.61 2299.77 L492.6 2301.79 L489.59 2303.82 L486.58 2305.85 L483.57 2307.89 L480.56 2309.92 L477.55 2311.96 L474.55 2314.01 L471.54 2316.05 L468.53 2318.1 L465.52 2320.15 L462.51 2322.21 L459.5 2324.26 L456.5 2326.32 L453.49 2328.38 L450.48 2330.44 L447.47 2332.51 L444.46 2334.57 L441.45 2336.63 L438.44 2338.7 L435.44 2340.77 L432.43 2342.83 L429.42 2344.9 L426.41 2346.97 L423.4 2349.04 L420.39 2351.1 L417.39 2353.17 L414.38 2355.24 L411.37 2357.3 L408.36 2359.37 L405.35 2361.43 L402.34 2363.49 L399.33 2365.55 L396.33 2367.61 L393.32 2369.67 L390.31 2371.72 L387.3 2373.78 L384.29 2375.83 L381.28 2377.87 L378.28 2379.92 L375.27 2381.96 L372.26 2384 L369.25 2386.04Z" fill="#e1eef7"/>
<path d="M369.25 2258 L992 2032.5" fill="none" stroke="#3572b4" stroke-width="5.9" stroke-linejoin="round"/>
<line x1="339.25" y1="2135" x2="1022" y2="2135" stroke="#000" stroke-width="3" stroke-dasharray="3.2 9.24" stroke-dashoffset="0.6"/>
<line x1="474.6" y1="1915.5" x2="474.6" y2="2407.75" stroke="#555" stroke-width="1.2"/>
<line x1="533.6" y1="1915.5" x2="533.6" y2="2407.75" stroke="#555" stroke-width="1.2"/>
<line x1="734.6" y1="1915.5" x2="734.6" y2="2407.75" stroke="#555" stroke-width="1.2"/>
<rect x="339.25" y="1915.5" width="682.75" height="492.25" fill="none" stroke="#000" stroke-width="2.6"/>
<text class="ti yl" text-anchor="middle" transform="translate(260.45 2161.25) rotate(-90) scale(1 1.03)">Estimated effect (s)</text>
<text class="tk" text-anchor="end" x="323.5" y="2031.75">2</text>
<text class="tk" text-anchor="end" x="323.5" y="2146.5">0</text>
<text class="tk" text-anchor="end" x="323.5" y="2261.5">-2</text>
<text class="tk" text-anchor="end" x="323.5" y="2376">-4</text>
<text class="tk" text-anchor="middle" x="473.25" y="2450">0.0</text>
<text class="tk" text-anchor="middle" x="658" y="2450">2.5</text>
<text class="tk" text-anchor="middle" x="843.25" y="2450">5.0</text>
<text class="ti" text-anchor="middle" x="680.5" y="2490">iTEMP [°C]</text>
<text class="tg" x="352" y="1946.75">g)</text>
<text class="bd" x="547.5" y="1963.15">SW</text>
<text class="bd" x="547.5" y="2004.4">IW</text>
<text class="bd" x="548.5" y="2046.4">TAW</text>
<text class="bd" x="352.75" y="2106.15">ArW</text>
<text class="bd" x="477" y="2361.65">LW</text>
<text class="bd" x="948.75" y="2176.4">AW</text>
</g>
<g id="panel-h">
<path d="M1190.38 2098.73 L1193.39 2099.31 L1196.4 2099.83 L1199.4 2100.29 L1202.41 2100.7 L1205.42 2101.05 L1208.43 2101.33 L1211.44 2101.56 L1214.45 2101.72 L1217.46 2101.83 L1220.47 2101.87 L1223.47 2101.85 L1226.48 2101.76 L1229.49 2101.62 L1232.5 2101.4 L1235.51 2101.13 L1238.52 2100.79 L1241.53 2100.38 L1244.54 2099.9 L1247.54 2099.36 L1250.55 2098.75 L1253.56 2098.08 L1256.57 2097.33 L1259.58 2096.51 L1262.59 2095.63 L1265.6 2094.67 L1268.61 2093.65 L1271.61 2092.55 L1274.62 2091.38 L1277.63 2090.15 L1280.64 2088.85 L1283.65 2087.5 L1286.66 2086.09 L1289.67 2084.64 L1292.68 2083.14 L1295.69 2081.6 L1298.69 2080.03 L1301.7 2078.42 L1304.71 2076.79 L1307.72 2075.13 L1310.73 2073.46 L1313.74 2071.77 L1316.75 2070.07 L1319.76 2068.36 L1322.76 2066.65 L1325.77 2064.94 L1328.78 2063.25 L1331.79 2061.56 L1334.8 2059.89 L1337.81 2058.23 L1340.82 2056.6 L1343.83 2055 L1346.83 2053.43 L1349.84 2051.9 L1352.85 2050.41 L1355.86 2048.96 L1358.87 2047.57 L1361.88 2046.22 L1364.89 2044.93 L1367.9 2043.7 L1370.9 2042.53 L1373.91 2041.41 L1376.92 2040.36 L1379.93 2039.37 L1382.94 2038.44 L1385.95 2037.57 L1388.96 2036.77 L1391.97 2036.04 L1394.97 2035.38 L1397.98 2034.79 L1400.99 2034.27 L1404 2033.82 L1407.01 2033.45 L1410.02 2033.15 L1413.03 2032.94 L1416.04 2032.8 L1419.04 2032.74 L1422.05 2032.76 L1425.06 2032.86 L1428.07 2033.05 L1431.08 2033.33 L1434.09 2033.69 L1437.1 2034.13 L1440.11 2034.66 L1443.12 2035.26 L1446.12 2035.94 L1449.13 2036.68 L1452.14 2037.49 L1455.15 2038.37 L1458.16 2039.3 L1461.17 2040.28 L1464.18 2041.31 L1467.19 2042.4 L1470.19 2043.52 L1473.2 2044.68 L1476.21 2045.88 L1479.22 2047.11 L1482.23 2048.37 L1485.24 2049.65 L1488.25 2050.95 L1491.26 2052.27 L1494.26 2053.6 L1497.27 2054.94 L1500.28 2056.29 L1503.29 2057.64 L1506.3 2058.98 L1509.31 2060.32 L1512.32 2061.65 L1515.33 2062.97 L1518.33 2064.27 L1521.34 2065.55 L1524.35 2066.81 L1527.36 2068.03 L1530.37 2069.23 L1533.38 2070.38 L1536.39 2071.5 L1539.4 2072.58 L1542.4 2073.61 L1545.41 2074.61 L1548.42 2075.55 L1551.43 2076.45 L1554.44 2077.29 L1557.45 2078.09 L1560.46 2078.84 L1563.47 2079.52 L1566.47 2080.16 L1569.48 2080.73 L1572.49 2081.25 L1575.5 2081.7 L1578.51 2082.1 L1581.52 2082.43 L1584.53 2082.69 L1587.54 2082.88 L1590.55 2083.01 L1593.55 2083.06 L1596.56 2083.04 L1599.57 2082.95 L1602.58 2082.78 L1605.59 2082.53 L1608.6 2082.2 L1611.61 2081.79 L1614.62 2081.3 L1617.62 2080.73 L1620.63 2080.07 L1623.64 2079.32 L1626.65 2078.48 L1629.66 2077.55 L1632.67 2076.53 L1635.68 2075.42 L1638.69 2074.23 L1641.69 2072.96 L1644.7 2071.61 L1647.71 2070.19 L1650.72 2068.69 L1653.73 2067.12 L1656.74 2065.49 L1659.75 2063.79 L1662.76 2062.03 L1665.76 2060.21 L1668.77 2058.34 L1671.78 2056.41 L1674.79 2054.44 L1677.8 2052.42 L1680.81 2050.36 L1683.82 2048.25 L1686.83 2046.11 L1689.83 2043.93 L1692.84 2041.73 L1695.85 2039.49 L1698.86 2037.22 L1701.87 2034.94 L1704.88 2032.62 L1707.89 2030.29 L1710.9 2027.93 L1713.9 2025.55 L1716.91 2023.14 L1719.92 2020.72 L1722.93 2018.27 L1725.94 2015.81 L1728.95 2013.32 L1731.96 2010.81 L1734.97 2008.28 L1737.98 2005.74 L1740.98 2003.18 L1743.99 2000.6 L1747 1998 L1750.01 1995.38 L1753.02 1992.75 L1756.03 1990.1 L1759.04 1987.44 L1762.05 1984.76 L1765.05 1982.07 L1768.06 1979.36 L1771.07 1976.64 L1774.08 1973.91 L1777.09 1971.16 L1780.1 1968.4 L1783.11 1965.63 L1786.12 1962.85 L1789.12 1960.06 L1792.13 1957.25 L1795.14 1954.44 L1798.15 1951.62 L1801.16 1948.79 L1804.17 1945.95 L1807.18 1943.1 L1810.19 1940.25 L1813.19 1937.39 L1813.19 2030.4 L1810.19 2030.8 L1807.18 2031.33 L1804.17 2031.99 L1801.16 2032.76 L1798.15 2033.64 L1795.14 2034.64 L1792.13 2035.75 L1789.12 2036.95 L1786.12 2038.26 L1783.11 2039.66 L1780.1 2041.15 L1777.09 2042.73 L1774.08 2044.4 L1771.07 2046.14 L1768.06 2047.96 L1765.05 2049.85 L1762.05 2051.81 L1759.04 2053.83 L1756.03 2055.91 L1753.02 2058.05 L1750.01 2060.24 L1747 2062.48 L1743.99 2064.76 L1740.98 2067.08 L1737.98 2069.44 L1734.97 2071.83 L1731.96 2074.24 L1728.95 2076.69 L1725.94 2079.15 L1722.93 2081.63 L1719.92 2084.12 L1716.91 2086.62 L1713.9 2089.13 L1710.9 2091.63 L1707.89 2094.13 L1704.88 2096.63 L1701.87 2099.11 L1698.86 2101.58 L1695.85 2104.03 L1692.84 2106.46 L1689.83 2108.86 L1686.83 2111.24 L1683.82 2113.58 L1680.81 2115.89 L1677.8 2118.17 L1674.79 2120.41 L1671.78 2122.6 L1668.77 2124.75 L1665.76 2126.86 L1662.76 2128.91 L1659.75 2130.92 L1656.74 2132.87 L1653.73 2134.76 L1650.72 2136.59 L1647.71 2138.35 L1644.7 2140.06 L1641.69 2141.69 L1638.69 2143.25 L1635.68 2144.74 L1632.67 2146.15 L1629.66 2147.49 L1626.65 2148.74 L1623.64 2149.9 L1620.63 2150.98 L1617.62 2151.97 L1614.62 2152.87 L1611.61 2153.67 L1608.6 2154.37 L1605.59 2154.98 L1602.58 2155.48 L1599.57 2155.88 L1596.56 2156.2 L1593.55 2156.41 L1590.55 2156.54 L1587.54 2156.58 L1584.53 2156.54 L1581.52 2156.41 L1578.51 2156.21 L1575.5 2155.92 L1572.49 2155.56 L1569.48 2155.13 L1566.47 2154.63 L1563.47 2154.05 L1560.46 2153.41 L1557.45 2152.71 L1554.44 2151.95 L1551.43 2151.13 L1548.42 2150.25 L1545.41 2149.32 L1542.4 2148.33 L1539.4 2147.3 L1536.39 2146.22 L1533.38 2145.1 L1530.37 2143.93 L1527.36 2142.72 L1524.35 2141.48 L1521.34 2140.2 L1518.33 2138.89 L1515.33 2137.55 L1512.32 2136.18 L1509.31 2134.79 L1506.3 2133.38 L1503.29 2131.94 L1500.28 2130.49 L1497.27 2129.03 L1494.26 2127.57 L1491.26 2126.1 L1488.25 2124.64 L1485.24 2123.18 L1482.23 2121.74 L1479.22 2120.32 L1476.21 2118.92 L1473.2 2117.54 L1470.19 2116.2 L1467.19 2114.89 L1464.18 2113.63 L1461.17 2112.4 L1458.16 2111.23 L1455.15 2110.11 L1452.14 2109.05 L1449.13 2108.06 L1446.12 2107.13 L1443.12 2106.27 L1440.11 2105.5 L1437.1 2104.8 L1434.09 2104.19 L1431.08 2103.67 L1428.07 2103.25 L1425.06 2102.92 L1422.05 2102.7 L1419.04 2102.6 L1416.04 2102.6 L1413.03 2102.72 L1410.02 2102.95 L1407.01 2103.3 L1404 2103.76 L1400.99 2104.35 L1397.98 2105.04 L1394.97 2105.86 L1391.97 2106.8 L1388.96 2107.85 L1385.95 2109.02 L1382.94 2110.31 L1379.93 2111.73 L1376.92 2113.26 L1373.91 2114.92 L1370.9 2116.69 L1367.9 2118.59 L1364.89 2120.62 L1361.88 2122.76 L1358.87 2125.04 L1355.86 2127.43 L1352.85 2129.95 L1349.84 2132.59 L1346.83 2135.34 L1343.83 2138.21 L1340.82 2141.2 L1337.81 2144.29 L1334.8 2147.5 L1331.79 2150.81 L1328.78 2154.22 L1325.77 2157.74 L1322.76 2161.36 L1319.76 2165.07 L1316.75 2168.88 L1313.74 2172.78 L1310.73 2176.77 L1307.72 2180.85 L1304.71 2185.02 L1301.7 2189.27 L1298.69 2193.6 L1295.69 2198.01 L1292.68 2202.5 L1289.67 2207.06 L1286.66 2211.69 L1283.65 2216.39 L1280.64 2221.16 L1277.63 2226 L1274.62 2230.89 L1271.61 2235.85 L1268.61 2240.87 L1265.6 2245.94 L1262.59 2251.07 L1259.58 2256.25 L1256.57 2261.47 L1253.56 2266.75 L1250.55 2272.07 L1247.54 2277.43 L1244.54 2282.84 L1241.53 2288.28 L1238.52 2293.75 L1235.51 2299.27 L1232.5 2304.81 L1229.49 2310.38 L1226.48 2315.98 L1223.47 2321.61 L1220.47 2327.25 L1217.46 2332.92 L1214.45 2338.61 L1211.44 2344.31 L1208.43 2350.03 L1205.42 2355.76 L1202.41 2361.49 L1199.4 2367.24 L1196.4 2372.99 L1193.39 2378.74 L1190.38 2384.49Z" fill="#e1eef7"/>
<path d="M1190.38 2240.17 L1193.39 2237.45 L1196.4 2234.71 L1199.4 2231.96 L1202.41 2229.19 L1205.42 2226.42 L1208.43 2223.62 L1211.44 2220.82 L1214.45 2218.01 L1217.46 2215.19 L1220.47 2212.36 L1223.47 2209.52 L1226.48 2206.67 L1229.49 2203.82 L1232.5 2200.96 L1235.51 2198.1 L1238.52 2195.24 L1241.53 2192.37 L1244.54 2189.5 L1247.54 2186.63 L1250.55 2183.76 L1253.56 2180.89 L1256.57 2178.02 L1259.58 2175.16 L1262.59 2172.3 L1265.6 2169.44 L1268.61 2166.59 L1271.61 2163.75 L1274.62 2160.91 L1277.63 2158.08 L1280.64 2155.26 L1283.65 2152.45 L1286.66 2149.65 L1289.67 2146.86 L1292.68 2144.09 L1295.69 2141.32 L1298.69 2138.58 L1301.7 2135.84 L1304.71 2133.13 L1307.72 2130.43 L1310.73 2127.74 L1313.74 2125.08 L1316.75 2122.44 L1319.76 2119.81 L1322.76 2117.21 L1325.77 2114.63 L1328.78 2112.08 L1331.79 2109.56 L1334.8 2107.07 L1337.81 2104.62 L1340.82 2102.21 L1343.83 2099.85 L1346.83 2097.54 L1349.84 2095.28 L1352.85 2093.08 L1355.86 2090.93 L1358.87 2088.85 L1361.88 2086.84 L1364.89 2084.91 L1367.9 2083.04 L1370.9 2081.26 L1373.91 2079.57 L1376.92 2077.96 L1379.93 2076.45 L1382.94 2075.03 L1385.95 2073.72 L1388.96 2072.51 L1391.97 2071.41 L1394.97 2070.43 L1397.98 2069.56 L1400.99 2068.79 L1404 2068.14 L1407.01 2067.59 L1410.02 2067.14 L1413.03 2066.8 L1416.04 2066.55 L1419.04 2066.41 L1422.05 2066.36 L1425.06 2066.41 L1428.07 2066.55 L1431.08 2066.79 L1434.09 2067.11 L1437.1 2067.53 L1440.11 2068.03 L1443.12 2068.62 L1446.12 2069.29 L1449.13 2070.05 L1452.14 2070.89 L1455.15 2071.8 L1458.16 2072.8 L1461.17 2073.86 L1464.18 2075 L1467.19 2076.2 L1470.19 2077.46 L1473.2 2078.78 L1476.21 2080.13 L1479.22 2081.53 L1482.23 2082.96 L1485.24 2084.42 L1488.25 2085.91 L1491.26 2087.4 L1494.26 2088.91 L1497.27 2090.43 L1500.28 2091.94 L1503.29 2093.44 L1506.3 2094.93 L1509.31 2096.4 L1512.32 2097.85 L1515.33 2099.27 L1518.33 2100.66 L1521.34 2102.02 L1524.35 2103.35 L1527.36 2104.65 L1530.37 2105.9 L1533.38 2107.12 L1536.39 2108.29 L1539.4 2109.42 L1542.4 2110.5 L1545.41 2111.53 L1548.42 2112.51 L1551.43 2113.43 L1554.44 2114.3 L1557.45 2115.11 L1560.46 2115.86 L1563.47 2116.55 L1566.47 2117.17 L1569.48 2117.73 L1572.49 2118.22 L1575.5 2118.65 L1578.51 2119 L1581.52 2119.28 L1584.53 2119.49 L1587.54 2119.62 L1590.55 2119.68 L1593.55 2119.66 L1596.56 2119.57 L1599.57 2119.39 L1602.58 2119.13 L1605.59 2118.79 L1608.6 2118.37 L1611.61 2117.86 L1614.62 2117.26 L1617.62 2116.57 L1620.63 2115.8 L1623.64 2114.93 L1626.65 2113.97 L1629.66 2112.91 L1632.67 2111.76 L1635.68 2110.51 L1638.69 2109.17 L1641.69 2107.72 L1644.7 2106.17 L1647.71 2104.53 L1650.72 2102.8 L1653.73 2100.98 L1656.74 2099.08 L1659.75 2097.11 L1662.76 2095.07 L1665.76 2092.97 L1668.77 2090.82 L1671.78 2088.61 L1674.79 2086.35 L1677.8 2084.06 L1680.81 2081.74 L1683.82 2079.38 L1686.83 2077 L1689.83 2074.61 L1692.84 2072.2 L1695.85 2069.79 L1698.86 2067.38 L1701.87 2064.97 L1704.88 2062.56 L1707.89 2060.16 L1710.9 2057.77 L1713.9 2055.38 L1716.91 2053 L1719.92 2050.64 L1722.93 2048.28 L1725.94 2045.94 L1728.95 2043.61 L1731.96 2041.3 L1734.97 2039 L1737.98 2036.72 L1740.98 2034.46 L1743.99 2032.22 L1747 2030 L1750.01 2027.8 L1753.02 2025.63 L1756.03 2023.48 L1759.04 2021.35 L1762.05 2019.24 L1765.05 2017.15 L1768.06 2015.08 L1771.07 2013.02 L1774.08 2010.98 L1777.09 2008.94 L1780.1 2006.92 L1783.11 2004.9 L1786.12 2002.88 L1789.12 2000.87 L1792.13 1998.85 L1795.14 1996.84 L1798.15 1994.82 L1801.16 1992.79 L1804.17 1990.76 L1807.18 1988.71 L1810.19 1986.66 L1813.19 1984.59" fill="none" stroke="#3572b4" stroke-width="5.9" stroke-linejoin="round"/>
<line x1="1160.75" y1="2090" x2="1843.75" y2="2090" stroke="#000" stroke-width="3" stroke-dasharray="3.2 9.24" stroke-dashoffset="2"/>
<line x1="1298.6" y1="1915.5" x2="1298.6" y2="2407.75" stroke="#555" stroke-width="1.2"/>
<line x1="1358.6" y1="1915.5" x2="1358.6" y2="2407.75" stroke="#555" stroke-width="1.2"/>
<line x1="1581.6" y1="1915.5" x2="1581.6" y2="2407.75" stroke="#555" stroke-width="1.2"/>
<rect x="1160.75" y="1915.5" width="683" height="492.25" fill="none" stroke="#000" stroke-width="2.6"/>
<text class="ti yl" text-anchor="middle" transform="translate(1081.95 2161.25) rotate(-90) scale(1 1.03)">Estimated effect (s)</text>
<text class="tk" text-anchor="end" x="1145" y="1963.25">5</text>
<text class="tk" text-anchor="end" x="1145" y="2101.25">0</text>
<text class="tk" text-anchor="end" x="1145" y="2237.75">-5</text>
<text class="tk" text-anchor="end" x="1145" y="2376.75">-10</text>
<text class="tk" text-anchor="middle" x="1298.75" y="2450">0</text>
<text class="tk" text-anchor="middle" x="1481.6" y="2450">2</text>
<text class="tk" text-anchor="middle" x="1665" y="2450">4</text>
<text class="ti" text-anchor="middle" x="1502" y="2490">bTEMP [°C]</text>
<text class="tg" x="1172.5" y="1946.75">h)</text>
<text class="bd" x="1302" y="1952.65">LW</text>
<text class="bd" x="1376.5" y="2167.65">SW</text>
<text class="bd" x="1376.5" y="2209.15">IW</text>
<text class="bd" x="1377" y="2251.65">TAW</text>
<text class="bd" x="1218.25" y="2380.9">ArW</text>
<text class="bd" x="1604.5" y="1953.9">AW</text>
</g>
</svg>
</body>
</html>
